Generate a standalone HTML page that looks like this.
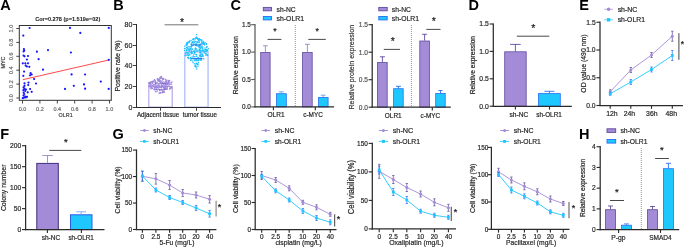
<!DOCTYPE html>
<html><head><meta charset="utf-8"><style>
html,body{margin:0;padding:0;background:#fff;}
body{width:685px;height:248px;overflow:hidden;}
svg{display:block;will-change:transform;font-family:"Liberation Sans",sans-serif;}
</style></head><body>
<svg width="685" height="248" viewBox="0 0 685 248">
<text x="0.34" y="10.20" font-size="14.50" font-weight="bold" fill="#000">A</text>
<text x="113.26" y="10.20" font-size="14.50" font-weight="bold" fill="#000">B</text>
<text x="230.52" y="10.20" font-size="14.50" font-weight="bold" fill="#000">C</text>
<text x="468.46" y="10.20" font-size="14.50" font-weight="bold" fill="#000">D</text>
<text x="579.26" y="10.20" font-size="14.50" font-weight="bold" fill="#000">E</text>
<text x="0.26" y="139.00" font-size="14.50" font-weight="bold" fill="#000">F</text>
<text x="112.62" y="139.00" font-size="14.50" font-weight="bold" fill="#000">G</text>
<text x="578.96" y="139.00" font-size="14.50" font-weight="bold" fill="#000">H</text>
<rect x="19.3" y="25.5" width="92.0" height="74.8" fill="none" stroke="#333" stroke-width="1"/>
<text x="35.13" y="21.05" font-size="6.02" font-weight="bold" fill="#1a1a1a" stroke="#1a1a1a" stroke-width="0.05" textLength="65.19" lengthAdjust="spacingAndGlyphs">Cor=0.278 (p=1.519e−02)</text>
<line x1="16.30" y1="98.00" x2="19.30" y2="98.00" stroke="#333" stroke-width="0.9" />
<text x="12.80" y="101.84" font-size="5.94" fill="#6a6a6a" stroke="#6a6a6a" stroke-width="0.2" transform="rotate(-90 12.80 101.84)" textLength="7.65" lengthAdjust="spacingAndGlyphs">0.0</text>
<line x1="16.30" y1="84.10" x2="19.30" y2="84.10" stroke="#333" stroke-width="0.9" />
<text x="12.80" y="87.89" font-size="5.94" fill="#6a6a6a" stroke="#6a6a6a" stroke-width="0.2" transform="rotate(-90 12.80 87.89)" textLength="7.65" lengthAdjust="spacingAndGlyphs">0.2</text>
<line x1="16.30" y1="70.20" x2="19.30" y2="70.20" stroke="#333" stroke-width="0.9" />
<text x="12.80" y="74.05" font-size="5.94" fill="#6a6a6a" stroke="#6a6a6a" stroke-width="0.2" transform="rotate(-90 12.80 74.05)" textLength="7.65" lengthAdjust="spacingAndGlyphs">0.4</text>
<line x1="16.30" y1="56.30" x2="19.30" y2="56.30" stroke="#333" stroke-width="0.9" />
<text x="12.80" y="60.12" font-size="5.94" fill="#6a6a6a" stroke="#6a6a6a" stroke-width="0.2" transform="rotate(-90 12.80 60.12)" textLength="7.65" lengthAdjust="spacingAndGlyphs">0.6</text>
<line x1="16.30" y1="42.40" x2="19.30" y2="42.40" stroke="#333" stroke-width="0.9" />
<text x="12.80" y="46.22" font-size="5.94" fill="#6a6a6a" stroke="#6a6a6a" stroke-width="0.2" transform="rotate(-90 12.80 46.22)" textLength="7.65" lengthAdjust="spacingAndGlyphs">0.8</text>
<line x1="16.30" y1="28.50" x2="19.30" y2="28.50" stroke="#333" stroke-width="0.9" />
<text x="12.80" y="32.43" font-size="5.94" fill="#6a6a6a" stroke="#6a6a6a" stroke-width="0.2" transform="rotate(-90 12.80 32.43)" textLength="7.65" lengthAdjust="spacingAndGlyphs">1.0</text>
<line x1="22.50" y1="100.30" x2="22.50" y2="103.50" stroke="#333" stroke-width="0.9" />
<text x="18.66" y="111.30" font-size="5.94" fill="#6a6a6a" stroke="#6a6a6a" stroke-width="0.2" textLength="7.65" lengthAdjust="spacingAndGlyphs">0.0</text>
<line x1="39.90" y1="100.30" x2="39.90" y2="103.50" stroke="#333" stroke-width="0.9" />
<text x="36.11" y="111.30" font-size="5.94" fill="#6a6a6a" stroke="#6a6a6a" stroke-width="0.2" textLength="7.65" lengthAdjust="spacingAndGlyphs">0.2</text>
<line x1="57.30" y1="100.30" x2="57.30" y2="103.50" stroke="#333" stroke-width="0.9" />
<text x="53.45" y="111.30" font-size="5.94" fill="#6a6a6a" stroke="#6a6a6a" stroke-width="0.2" textLength="7.65" lengthAdjust="spacingAndGlyphs">0.4</text>
<line x1="74.70" y1="100.30" x2="74.70" y2="103.50" stroke="#333" stroke-width="0.9" />
<text x="70.88" y="111.30" font-size="5.94" fill="#6a6a6a" stroke="#6a6a6a" stroke-width="0.2" textLength="7.65" lengthAdjust="spacingAndGlyphs">0.6</text>
<line x1="92.10" y1="100.30" x2="92.10" y2="103.50" stroke="#333" stroke-width="0.9" />
<text x="88.28" y="111.30" font-size="5.94" fill="#6a6a6a" stroke="#6a6a6a" stroke-width="0.2" textLength="7.65" lengthAdjust="spacingAndGlyphs">0.8</text>
<line x1="109.50" y1="100.30" x2="109.50" y2="103.50" stroke="#333" stroke-width="0.9" />
<text x="105.57" y="111.30" font-size="5.94" fill="#6a6a6a" stroke="#6a6a6a" stroke-width="0.2" textLength="7.65" lengthAdjust="spacingAndGlyphs">1.0</text>
<text x="58.55" y="117.20" font-size="5.83" fill="#444" stroke="#444" stroke-width="0.2" textLength="14.11" lengthAdjust="spacingAndGlyphs">OLR1</text>
<text x="4.70" y="68.52" font-size="5.83" fill="#444" stroke="#444" stroke-width="0.2" transform="rotate(-90 4.70 68.52)" textLength="12.00" lengthAdjust="spacingAndGlyphs">MYC</text>
<line x1="22.80" y1="79.70" x2="108.80" y2="60.00" stroke="#ff3535" stroke-width="0.9" />
<circle cx="29.6" cy="28" r="1.1" fill="#1515ff"/>
<circle cx="23.3" cy="35.6" r="1.1" fill="#1515ff"/>
<circle cx="23.9" cy="49" r="1.1" fill="#1515ff"/>
<circle cx="24.2" cy="50.5" r="1.1" fill="#1515ff"/>
<circle cx="23.6" cy="51.5" r="1.1" fill="#1515ff"/>
<circle cx="36.9" cy="51.7" r="1.1" fill="#1515ff"/>
<circle cx="48" cy="50.1" r="1.1" fill="#1515ff"/>
<circle cx="23.6" cy="55.5" r="1.1" fill="#1515ff"/>
<circle cx="24.5" cy="56.3" r="1.1" fill="#1515ff"/>
<circle cx="28" cy="56" r="1.1" fill="#1515ff"/>
<circle cx="26.9" cy="59.5" r="1.1" fill="#1515ff"/>
<circle cx="38.6" cy="59.2" r="1.1" fill="#1515ff"/>
<circle cx="22.8" cy="63.3" r="1.1" fill="#1515ff"/>
<circle cx="25.3" cy="63.3" r="1.1" fill="#1515ff"/>
<circle cx="28" cy="63.3" r="1.1" fill="#1515ff"/>
<circle cx="25.7" cy="65.6" r="1.1" fill="#1515ff"/>
<circle cx="26.9" cy="66.5" r="1.1" fill="#1515ff"/>
<circle cx="29.3" cy="66.8" r="1.1" fill="#1515ff"/>
<circle cx="43" cy="69.7" r="1.1" fill="#1515ff"/>
<circle cx="24.1" cy="71.6" r="1.1" fill="#1515ff"/>
<circle cx="30.6" cy="73.2" r="1.1" fill="#1515ff"/>
<circle cx="31.7" cy="74.5" r="1.1" fill="#1515ff"/>
<circle cx="30.1" cy="75.3" r="1.1" fill="#1515ff"/>
<circle cx="23.3" cy="75.8" r="1.1" fill="#1515ff"/>
<circle cx="34.1" cy="79" r="1.1" fill="#1515ff"/>
<circle cx="24.5" cy="83.4" r="1.1" fill="#1515ff"/>
<circle cx="28.5" cy="82.6" r="1.1" fill="#1515ff"/>
<circle cx="28.2" cy="85" r="1.1" fill="#1515ff"/>
<circle cx="24.5" cy="85.8" r="1.1" fill="#1515ff"/>
<circle cx="36" cy="83.5" r="1.1" fill="#1515ff"/>
<circle cx="23.6" cy="87.4" r="1.1" fill="#1515ff"/>
<circle cx="24.5" cy="88.8" r="1.1" fill="#1515ff"/>
<circle cx="23.4" cy="90.2" r="1.1" fill="#1515ff"/>
<circle cx="25.2" cy="91" r="1.1" fill="#1515ff"/>
<circle cx="23.6" cy="92.6" r="1.1" fill="#1515ff"/>
<circle cx="24.2" cy="94" r="1.1" fill="#1515ff"/>
<circle cx="23.5" cy="95.5" r="1.1" fill="#1515ff"/>
<circle cx="25.3" cy="96.5" r="1.1" fill="#1515ff"/>
<circle cx="24" cy="97.6" r="1.1" fill="#1515ff"/>
<circle cx="22.8" cy="98.2" r="1.1" fill="#1515ff"/>
<circle cx="30.1" cy="89" r="1.1" fill="#1515ff"/>
<circle cx="27.7" cy="92.3" r="1.1" fill="#1515ff"/>
<circle cx="31.7" cy="91.8" r="1.1" fill="#1515ff"/>
<circle cx="25.8" cy="97.5" r="1.1" fill="#1515ff"/>
<circle cx="27" cy="96.8" r="1.1" fill="#1515ff"/>
<circle cx="26.0" cy="89.5" r="1.1" fill="#1515ff"/>
<circle cx="70" cy="27.9" r="1.1" fill="#1515ff"/>
<circle cx="80.3" cy="32.9" r="1.1" fill="#1515ff"/>
<circle cx="108.8" cy="27.9" r="1.1" fill="#1515ff"/>
<circle cx="70.9" cy="52.5" r="1.1" fill="#1515ff"/>
<circle cx="108.8" cy="59.8" r="1.1" fill="#1515ff"/>
<circle cx="71.6" cy="74.4" r="1.1" fill="#1515ff"/>
<circle cx="85.1" cy="74.5" r="1.1" fill="#1515ff"/>
<circle cx="100.8" cy="81.6" r="1.1" fill="#1515ff"/>
<circle cx="73.8" cy="85.8" r="1.1" fill="#1515ff"/>
<circle cx="84" cy="84.4" r="1.1" fill="#1515ff"/>
<circle cx="65" cy="88.9" r="1.1" fill="#1515ff"/>
<circle cx="85.1" cy="88.7" r="1.1" fill="#1515ff"/>
<circle cx="108.7" cy="88.9" r="1.1" fill="#1515ff"/>
<text x="136.95" y="117.30" font-size="6.73" fill="#262626" stroke="#262626" stroke-width="0.2" textLength="42.29" lengthAdjust="spacingAndGlyphs">Adjacent tissue</text>
<text x="182.86" y="117.30" font-size="6.76" fill="#262626" stroke="#262626" stroke-width="0.2" textLength="34.08" lengthAdjust="spacingAndGlyphs">tumor tissue</text>
<text x="119.70" y="91.61" font-size="7.55" fill="#262626" stroke="#262626" stroke-width="0.2" transform="rotate(-90 119.70 91.61)" textLength="51.28" lengthAdjust="spacingAndGlyphs">Positive rate (%)</text>
<rect x="148.85" y="86.35" width="23.30" height="20.75" fill="none" stroke="#a18ddc" stroke-width="0.9"/>
<rect x="184.85" y="51.92" width="23.20" height="55.18" fill="none" stroke="#8ea2f5" stroke-width="0.9"/>
<rect x="166.60" y="87.05" width="1.3" height="1.3" fill="#9c85dc"/>
<rect x="159.55" y="92.29" width="1.3" height="1.3" fill="#9c85dc"/>
<rect x="159.54" y="91.92" width="1.3" height="1.3" fill="#9c85dc"/>
<rect x="161.29" y="80.47" width="1.3" height="1.3" fill="#9c85dc"/>
<rect x="165.70" y="81.04" width="1.3" height="1.3" fill="#9c85dc"/>
<rect x="162.76" y="78.37" width="1.3" height="1.3" fill="#9c85dc"/>
<rect x="168.32" y="79.82" width="1.3" height="1.3" fill="#9c85dc"/>
<rect x="163.58" y="91.42" width="1.3" height="1.3" fill="#9c85dc"/>
<rect x="152.90" y="85.59" width="1.3" height="1.3" fill="#9c85dc"/>
<rect x="152.00" y="81.38" width="1.3" height="1.3" fill="#9c85dc"/>
<rect x="157.70" y="78.70" width="1.3" height="1.3" fill="#9c85dc"/>
<rect x="163.88" y="86.70" width="1.3" height="1.3" fill="#9c85dc"/>
<rect x="167.14" y="82.06" width="1.3" height="1.3" fill="#9c85dc"/>
<rect x="159.31" y="84.56" width="1.3" height="1.3" fill="#9c85dc"/>
<rect x="168.94" y="88.48" width="1.3" height="1.3" fill="#9c85dc"/>
<rect x="162.55" y="90.94" width="1.3" height="1.3" fill="#9c85dc"/>
<rect x="148.36" y="82.56" width="1.3" height="1.3" fill="#9c85dc"/>
<rect x="166.14" y="82.36" width="1.3" height="1.3" fill="#9c85dc"/>
<rect x="156.04" y="86.84" width="1.3" height="1.3" fill="#9c85dc"/>
<rect x="152.27" y="81.62" width="1.3" height="1.3" fill="#9c85dc"/>
<rect x="160.78" y="77.52" width="1.3" height="1.3" fill="#9c85dc"/>
<rect x="153.66" y="85.49" width="1.3" height="1.3" fill="#9c85dc"/>
<rect x="158.72" y="86.54" width="1.3" height="1.3" fill="#9c85dc"/>
<rect x="169.40" y="83.53" width="1.3" height="1.3" fill="#9c85dc"/>
<rect x="162.09" y="90.82" width="1.3" height="1.3" fill="#9c85dc"/>
<rect x="158.92" y="89.94" width="1.3" height="1.3" fill="#9c85dc"/>
<rect x="171.28" y="81.31" width="1.3" height="1.3" fill="#9c85dc"/>
<rect x="165.07" y="84.09" width="1.3" height="1.3" fill="#9c85dc"/>
<rect x="157.52" y="84.53" width="1.3" height="1.3" fill="#9c85dc"/>
<rect x="164.84" y="78.71" width="1.3" height="1.3" fill="#9c85dc"/>
<rect x="150.22" y="84.89" width="1.3" height="1.3" fill="#9c85dc"/>
<rect x="167.85" y="80.92" width="1.3" height="1.3" fill="#9c85dc"/>
<rect x="166.13" y="82.47" width="1.3" height="1.3" fill="#9c85dc"/>
<rect x="164.98" y="88.31" width="1.3" height="1.3" fill="#9c85dc"/>
<rect x="154.67" y="82.51" width="1.3" height="1.3" fill="#9c85dc"/>
<rect x="164.18" y="84.65" width="1.3" height="1.3" fill="#9c85dc"/>
<rect x="163.20" y="81.29" width="1.3" height="1.3" fill="#9c85dc"/>
<rect x="160.84" y="86.31" width="1.3" height="1.3" fill="#9c85dc"/>
<rect x="158.97" y="80.54" width="1.3" height="1.3" fill="#9c85dc"/>
<rect x="161.51" y="90.11" width="1.3" height="1.3" fill="#9c85dc"/>
<rect x="168.33" y="82.28" width="1.3" height="1.3" fill="#9c85dc"/>
<rect x="167.56" y="85.41" width="1.3" height="1.3" fill="#9c85dc"/>
<rect x="164.45" y="88.25" width="1.3" height="1.3" fill="#9c85dc"/>
<rect x="157.91" y="86.31" width="1.3" height="1.3" fill="#9c85dc"/>
<rect x="162.93" y="87.07" width="1.3" height="1.3" fill="#9c85dc"/>
<rect x="153.61" y="88.76" width="1.3" height="1.3" fill="#9c85dc"/>
<rect x="153.23" y="83.87" width="1.3" height="1.3" fill="#9c85dc"/>
<rect x="150.19" y="88.15" width="1.3" height="1.3" fill="#9c85dc"/>
<rect x="149.41" y="84.40" width="1.3" height="1.3" fill="#9c85dc"/>
<rect x="156.91" y="78.49" width="1.3" height="1.3" fill="#9c85dc"/>
<rect x="159.20" y="79.53" width="1.3" height="1.3" fill="#9c85dc"/>
<rect x="161.84" y="82.81" width="1.3" height="1.3" fill="#9c85dc"/>
<rect x="151.15" y="81.02" width="1.3" height="1.3" fill="#9c85dc"/>
<rect x="154.90" y="90.70" width="1.3" height="1.3" fill="#9c85dc"/>
<rect x="160.80" y="86.89" width="1.3" height="1.3" fill="#9c85dc"/>
<rect x="170.38" y="82.09" width="1.3" height="1.3" fill="#9c85dc"/>
<rect x="163.23" y="90.47" width="1.3" height="1.3" fill="#9c85dc"/>
<rect x="151.45" y="87.39" width="1.3" height="1.3" fill="#9c85dc"/>
<rect x="170.36" y="86.58" width="1.3" height="1.3" fill="#9c85dc"/>
<rect x="148.17" y="82.29" width="1.3" height="1.3" fill="#9c85dc"/>
<rect x="162.75" y="86.92" width="1.3" height="1.3" fill="#9c85dc"/>
<rect x="154.91" y="83.70" width="1.3" height="1.3" fill="#9c85dc"/>
<rect x="170.91" y="86.58" width="1.3" height="1.3" fill="#9c85dc"/>
<rect x="155.55" y="84.84" width="1.3" height="1.3" fill="#9c85dc"/>
<rect x="151.17" y="81.16" width="1.3" height="1.3" fill="#9c85dc"/>
<rect x="154.95" y="87.03" width="1.3" height="1.3" fill="#9c85dc"/>
<rect x="165.98" y="80.94" width="1.3" height="1.3" fill="#9c85dc"/>
<rect x="152.57" y="80.45" width="1.3" height="1.3" fill="#9c85dc"/>
<rect x="163.11" y="86.79" width="1.3" height="1.3" fill="#9c85dc"/>
<rect x="150.89" y="86.72" width="1.3" height="1.3" fill="#9c85dc"/>
<rect x="160.25" y="89.46" width="1.3" height="1.3" fill="#9c85dc"/>
<rect x="160.44" y="82.03" width="1.3" height="1.3" fill="#9c85dc"/>
<rect x="165.43" y="84.28" width="1.3" height="1.3" fill="#9c85dc"/>
<rect x="154.01" y="86.49" width="1.3" height="1.3" fill="#9c85dc"/>
<rect x="168.75" y="84.12" width="1.3" height="1.3" fill="#9c85dc"/>
<rect x="166.21" y="85.70" width="1.3" height="1.3" fill="#9c85dc"/>
<rect x="164.58" y="83.64" width="1.3" height="1.3" fill="#9c85dc"/>
<rect x="169.30" y="87.21" width="1.3" height="1.3" fill="#9c85dc"/>
<rect x="167.91" y="82.90" width="1.3" height="1.3" fill="#9c85dc"/>
<rect x="165.11" y="79.59" width="1.3" height="1.3" fill="#9c85dc"/>
<rect x="155.44" y="88.31" width="1.3" height="1.3" fill="#9c85dc"/>
<rect x="155.82" y="85.76" width="1.3" height="1.3" fill="#9c85dc"/>
<rect x="156.65" y="90.36" width="1.3" height="1.3" fill="#9c85dc"/>
<rect x="164.80" y="87.76" width="1.3" height="1.3" fill="#9c85dc"/>
<rect x="166.46" y="88.42" width="1.3" height="1.3" fill="#9c85dc"/>
<rect x="168.30" y="79.99" width="1.3" height="1.3" fill="#9c85dc"/>
<rect x="155.87" y="88.62" width="1.3" height="1.3" fill="#9c85dc"/>
<rect x="160.41" y="92.21" width="1.3" height="1.3" fill="#9c85dc"/>
<rect x="162.59" y="83.39" width="1.3" height="1.3" fill="#9c85dc"/>
<rect x="159.32" y="76.91" width="1.3" height="1.3" fill="#9c85dc"/>
<rect x="160.13" y="77.41" width="1.3" height="1.3" fill="#9c85dc"/>
<rect x="159.51" y="81.65" width="1.3" height="1.3" fill="#9c85dc"/>
<rect x="161.02" y="85.00" width="1.3" height="1.3" fill="#9c85dc"/>
<rect x="160.95" y="87.02" width="1.3" height="1.3" fill="#9c85dc"/>
<rect x="160.11" y="80.60" width="1.3" height="1.3" fill="#9c85dc"/>
<rect x="158.60" y="78.49" width="1.3" height="1.3" fill="#9c85dc"/>
<rect x="163.32" y="89.04" width="1.3" height="1.3" fill="#9c85dc"/>
<rect x="163.65" y="87.61" width="1.3" height="1.3" fill="#9c85dc"/>
<rect x="160.33" y="77.75" width="1.3" height="1.3" fill="#9c85dc"/>
<rect x="159.35" y="80.33" width="1.3" height="1.3" fill="#9c85dc"/>
<rect x="148.83" y="81.81" width="1.3" height="1.3" fill="#9c85dc"/>
<rect x="153.57" y="88.84" width="1.3" height="1.3" fill="#9c85dc"/>
<rect x="168.90" y="80.05" width="1.3" height="1.3" fill="#9c85dc"/>
<rect x="151.62" y="87.79" width="1.3" height="1.3" fill="#9c85dc"/>
<rect x="153.60" y="87.08" width="1.3" height="1.3" fill="#9c85dc"/>
<rect x="156.24" y="81.98" width="1.3" height="1.3" fill="#9c85dc"/>
<rect x="167.43" y="82.90" width="1.3" height="1.3" fill="#9c85dc"/>
<rect x="158.20" y="87.49" width="1.3" height="1.3" fill="#9c85dc"/>
<rect x="165.32" y="86.52" width="1.3" height="1.3" fill="#9c85dc"/>
<rect x="148.92" y="83.07" width="1.3" height="1.3" fill="#9c85dc"/>
<rect x="166.35" y="79.69" width="1.3" height="1.3" fill="#9c85dc"/>
<rect x="148.16" y="84.57" width="1.3" height="1.3" fill="#9c85dc"/>
<rect x="162.52" y="84.38" width="1.3" height="1.3" fill="#9c85dc"/>
<rect x="150.46" y="83.65" width="1.3" height="1.3" fill="#9c85dc"/>
<rect x="158.32" y="78.86" width="1.3" height="1.3" fill="#9c85dc"/>
<rect x="151.68" y="82.90" width="1.3" height="1.3" fill="#9c85dc"/>
<rect x="152.58" y="80.60" width="1.3" height="1.3" fill="#9c85dc"/>
<rect x="159.34" y="81.17" width="1.3" height="1.3" fill="#9c85dc"/>
<rect x="164.10" y="82.61" width="1.3" height="1.3" fill="#9c85dc"/>
<rect x="169.48" y="87.94" width="1.3" height="1.3" fill="#9c85dc"/>
<rect x="165.01" y="81.24" width="1.3" height="1.3" fill="#9c85dc"/>
<rect x="153.87" y="79.01" width="1.3" height="1.3" fill="#9c85dc"/>
<rect x="157.76" y="80.18" width="1.3" height="1.3" fill="#9c85dc"/>
<rect x="154.72" y="81.61" width="1.3" height="1.3" fill="#9c85dc"/>
<rect x="153.99" y="88.97" width="1.3" height="1.3" fill="#9c85dc"/>
<rect x="168.81" y="80.36" width="1.3" height="1.3" fill="#9c85dc"/>
<rect x="170.78" y="87.45" width="1.3" height="1.3" fill="#9c85dc"/>
<rect x="160.18" y="76.26" width="1.3" height="1.3" fill="#9c85dc"/>
<rect x="160.87" y="83.33" width="1.3" height="1.3" fill="#9c85dc"/>
<rect x="149.80" y="82.28" width="1.3" height="1.3" fill="#9c85dc"/>
<rect x="158.44" y="92.53" width="1.3" height="1.3" fill="#9c85dc"/>
<rect x="149.34" y="83.28" width="1.3" height="1.3" fill="#9c85dc"/>
<rect x="158.36" y="79.29" width="1.3" height="1.3" fill="#9c85dc"/>
<rect x="155.43" y="85.45" width="1.3" height="1.3" fill="#9c85dc"/>
<rect x="155.35" y="91.14" width="1.3" height="1.3" fill="#9c85dc"/>
<rect x="161.41" y="85.59" width="1.3" height="1.3" fill="#9c85dc"/>
<rect x="164.98" y="82.74" width="1.3" height="1.3" fill="#9c85dc"/>
<rect x="153.35" y="84.01" width="1.3" height="1.3" fill="#9c85dc"/>
<rect x="156.67" y="78.17" width="1.3" height="1.3" fill="#9c85dc"/>
<rect x="150.05" y="81.63" width="1.3" height="1.3" fill="#9c85dc"/>
<rect x="158.27" y="80.43" width="1.3" height="1.3" fill="#9c85dc"/>
<rect x="149.58" y="86.25" width="1.3" height="1.3" fill="#9c85dc"/>
<rect x="153.84" y="88.41" width="1.3" height="1.3" fill="#9c85dc"/>
<rect x="150.64" y="81.16" width="1.3" height="1.3" fill="#9c85dc"/>
<rect x="165.60" y="83.51" width="1.3" height="1.3" fill="#9c85dc"/>
<rect x="163.33" y="85.88" width="1.3" height="1.3" fill="#9c85dc"/>
<rect x="158.89" y="89.45" width="1.3" height="1.3" fill="#9c85dc"/>
<rect x="165.88" y="88.42" width="1.3" height="1.3" fill="#9c85dc"/>
<rect x="149.68" y="82.84" width="1.3" height="1.3" fill="#9c85dc"/>
<rect x="162.05" y="79.11" width="1.3" height="1.3" fill="#9c85dc"/>
<rect x="165.73" y="81.15" width="1.3" height="1.3" fill="#9c85dc"/>
<rect x="149.32" y="85.90" width="1.3" height="1.3" fill="#9c85dc"/>
<rect x="162.81" y="78.43" width="1.3" height="1.3" fill="#9c85dc"/>
<rect x="156.98" y="80.19" width="1.3" height="1.3" fill="#9c85dc"/>
<rect x="161.71" y="81.93" width="1.3" height="1.3" fill="#9c85dc"/>
<rect x="166.59" y="83.96" width="1.3" height="1.3" fill="#9c85dc"/>
<rect x="162.90" y="78.22" width="1.3" height="1.3" fill="#9c85dc"/>
<rect x="158.39" y="84.22" width="1.3" height="1.3" fill="#9c85dc"/>
<rect x="161.98" y="85.47" width="1.3" height="1.3" fill="#9c85dc"/>
<rect x="170.84" y="83.49" width="1.3" height="1.3" fill="#9c85dc"/>
<rect x="157.26" y="84.58" width="1.3" height="1.3" fill="#9c85dc"/>
<rect x="154.22" y="79.92" width="1.3" height="1.3" fill="#9c85dc"/>
<rect x="165.58" y="85.99" width="1.3" height="1.3" fill="#9c85dc"/>
<rect x="154.56" y="80.38" width="1.3" height="1.3" fill="#9c85dc"/>
<rect x="167.44" y="83.17" width="1.3" height="1.3" fill="#9c85dc"/>
<rect x="152.08" y="84.73" width="1.3" height="1.3" fill="#9c85dc"/>
<rect x="161.79" y="91.90" width="1.3" height="1.3" fill="#9c85dc"/>
<rect x="168.17" y="81.82" width="1.3" height="1.3" fill="#9c85dc"/>
<rect x="156.88" y="87.05" width="1.3" height="1.3" fill="#9c85dc"/>
<rect x="157.18" y="86.42" width="1.3" height="1.3" fill="#9c85dc"/>
<rect x="155.39" y="81.70" width="1.3" height="1.3" fill="#9c85dc"/>
<rect x="164.47" y="82.85" width="1.3" height="1.3" fill="#9c85dc"/>
<rect x="167.07" y="83.13" width="1.3" height="1.3" fill="#9c85dc"/>
<rect x="166.36" y="87.88" width="1.3" height="1.3" fill="#9c85dc"/>
<rect x="163.91" y="82.50" width="1.3" height="1.3" fill="#9c85dc"/>
<rect x="149.95" y="85.29" width="1.3" height="1.3" fill="#9c85dc"/>
<rect x="164.73" y="86.31" width="1.3" height="1.3" fill="#9c85dc"/>
<rect x="154.52" y="81.52" width="1.3" height="1.3" fill="#9c85dc"/>
<rect x="164.42" y="88.68" width="1.3" height="1.3" fill="#9c85dc"/>
<rect x="160.14" y="86.84" width="1.3" height="1.3" fill="#9c85dc"/>
<rect x="163.10" y="91.83" width="1.3" height="1.3" fill="#9c85dc"/>
<rect x="148.22" y="85.67" width="1.3" height="1.3" fill="#9c85dc"/>
<rect x="163.30" y="82.98" width="1.3" height="1.3" fill="#9c85dc"/>
<rect x="150.68" y="86.89" width="1.3" height="1.3" fill="#9c85dc"/>
<rect x="164.19" y="88.20" width="1.3" height="1.3" fill="#9c85dc"/>
<rect x="188.95" y="46.19" width="1.3" height="1.3" fill="#1fc0ff"/>
<rect x="198.59" y="43.88" width="1.3" height="1.3" fill="#1fc0ff"/>
<rect x="196.56" y="63.88" width="1.3" height="1.3" fill="#1fc0ff"/>
<rect x="190.58" y="59.46" width="1.3" height="1.3" fill="#1fc0ff"/>
<rect x="204.94" y="52.68" width="1.3" height="1.3" fill="#1fc0ff"/>
<rect x="194.76" y="58.16" width="1.3" height="1.3" fill="#1fc0ff"/>
<rect x="191.11" y="51.42" width="1.3" height="1.3" fill="#1fc0ff"/>
<rect x="205.78" y="43.04" width="1.3" height="1.3" fill="#1fc0ff"/>
<rect x="190.44" y="39.88" width="1.3" height="1.3" fill="#1fc0ff"/>
<rect x="188.26" y="52.57" width="1.3" height="1.3" fill="#1fc0ff"/>
<rect x="197.94" y="39.98" width="1.3" height="1.3" fill="#1fc0ff"/>
<rect x="187.56" y="56.88" width="1.3" height="1.3" fill="#1fc0ff"/>
<rect x="206.82" y="49.93" width="1.3" height="1.3" fill="#1fc0ff"/>
<rect x="199.16" y="44.31" width="1.3" height="1.3" fill="#1fc0ff"/>
<rect x="188.49" y="49.66" width="1.3" height="1.3" fill="#1fc0ff"/>
<rect x="192.60" y="38.84" width="1.3" height="1.3" fill="#1fc0ff"/>
<rect x="202.04" y="54.36" width="1.3" height="1.3" fill="#1fc0ff"/>
<rect x="186.33" y="54.68" width="1.3" height="1.3" fill="#1fc0ff"/>
<rect x="195.18" y="37.03" width="1.3" height="1.3" fill="#1fc0ff"/>
<rect x="200.18" y="46.21" width="1.3" height="1.3" fill="#1fc0ff"/>
<rect x="194.55" y="58.66" width="1.3" height="1.3" fill="#1fc0ff"/>
<rect x="186.67" y="51.92" width="1.3" height="1.3" fill="#1fc0ff"/>
<rect x="200.26" y="53.73" width="1.3" height="1.3" fill="#1fc0ff"/>
<rect x="206.53" y="50.30" width="1.3" height="1.3" fill="#1fc0ff"/>
<rect x="189.95" y="57.93" width="1.3" height="1.3" fill="#1fc0ff"/>
<rect x="201.55" y="49.74" width="1.3" height="1.3" fill="#1fc0ff"/>
<rect x="200.18" y="43.37" width="1.3" height="1.3" fill="#1fc0ff"/>
<rect x="203.56" y="43.55" width="1.3" height="1.3" fill="#1fc0ff"/>
<rect x="193.95" y="51.10" width="1.3" height="1.3" fill="#1fc0ff"/>
<rect x="188.18" y="41.59" width="1.3" height="1.3" fill="#1fc0ff"/>
<rect x="195.39" y="42.71" width="1.3" height="1.3" fill="#1fc0ff"/>
<rect x="186.05" y="46.61" width="1.3" height="1.3" fill="#1fc0ff"/>
<rect x="184.08" y="45.58" width="1.3" height="1.3" fill="#1fc0ff"/>
<rect x="190.00" y="59.44" width="1.3" height="1.3" fill="#1fc0ff"/>
<rect x="193.63" y="42.03" width="1.3" height="1.3" fill="#1fc0ff"/>
<rect x="189.10" y="51.02" width="1.3" height="1.3" fill="#1fc0ff"/>
<rect x="190.55" y="49.50" width="1.3" height="1.3" fill="#1fc0ff"/>
<rect x="193.28" y="50.71" width="1.3" height="1.3" fill="#1fc0ff"/>
<rect x="196.91" y="59.86" width="1.3" height="1.3" fill="#1fc0ff"/>
<rect x="184.42" y="55.04" width="1.3" height="1.3" fill="#1fc0ff"/>
<rect x="200.30" y="59.56" width="1.3" height="1.3" fill="#1fc0ff"/>
<rect x="202.00" y="46.34" width="1.3" height="1.3" fill="#1fc0ff"/>
<rect x="197.41" y="63.69" width="1.3" height="1.3" fill="#1fc0ff"/>
<rect x="207.71" y="47.82" width="1.3" height="1.3" fill="#1fc0ff"/>
<rect x="192.11" y="40.87" width="1.3" height="1.3" fill="#1fc0ff"/>
<rect x="199.85" y="49.43" width="1.3" height="1.3" fill="#1fc0ff"/>
<rect x="195.68" y="37.72" width="1.3" height="1.3" fill="#1fc0ff"/>
<rect x="200.70" y="40.19" width="1.3" height="1.3" fill="#1fc0ff"/>
<rect x="198.43" y="38.16" width="1.3" height="1.3" fill="#1fc0ff"/>
<rect x="194.63" y="65.24" width="1.3" height="1.3" fill="#1fc0ff"/>
<rect x="201.94" y="48.05" width="1.3" height="1.3" fill="#1fc0ff"/>
<rect x="187.50" y="46.16" width="1.3" height="1.3" fill="#1fc0ff"/>
<rect x="200.70" y="51.07" width="1.3" height="1.3" fill="#1fc0ff"/>
<rect x="192.70" y="55.30" width="1.3" height="1.3" fill="#1fc0ff"/>
<rect x="207.03" y="49.70" width="1.3" height="1.3" fill="#1fc0ff"/>
<rect x="191.53" y="41.69" width="1.3" height="1.3" fill="#1fc0ff"/>
<rect x="187.06" y="51.98" width="1.3" height="1.3" fill="#1fc0ff"/>
<rect x="184.05" y="49.81" width="1.3" height="1.3" fill="#1fc0ff"/>
<rect x="195.90" y="59.61" width="1.3" height="1.3" fill="#1fc0ff"/>
<rect x="185.20" y="54.19" width="1.3" height="1.3" fill="#1fc0ff"/>
<rect x="193.10" y="50.47" width="1.3" height="1.3" fill="#1fc0ff"/>
<rect x="191.10" y="45.24" width="1.3" height="1.3" fill="#1fc0ff"/>
<rect x="206.05" y="48.76" width="1.3" height="1.3" fill="#1fc0ff"/>
<rect x="200.97" y="46.07" width="1.3" height="1.3" fill="#1fc0ff"/>
<rect x="194.31" y="58.43" width="1.3" height="1.3" fill="#1fc0ff"/>
<rect x="187.16" y="52.20" width="1.3" height="1.3" fill="#1fc0ff"/>
<rect x="197.41" y="45.41" width="1.3" height="1.3" fill="#1fc0ff"/>
<rect x="188.97" y="40.56" width="1.3" height="1.3" fill="#1fc0ff"/>
<rect x="201.51" y="42.45" width="1.3" height="1.3" fill="#1fc0ff"/>
<rect x="200.31" y="58.60" width="1.3" height="1.3" fill="#1fc0ff"/>
<rect x="198.94" y="54.70" width="1.3" height="1.3" fill="#1fc0ff"/>
<rect x="202.85" y="41.86" width="1.3" height="1.3" fill="#1fc0ff"/>
<rect x="188.10" y="48.38" width="1.3" height="1.3" fill="#1fc0ff"/>
<rect x="197.36" y="38.19" width="1.3" height="1.3" fill="#1fc0ff"/>
<rect x="184.89" y="52.52" width="1.3" height="1.3" fill="#1fc0ff"/>
<rect x="196.41" y="63.00" width="1.3" height="1.3" fill="#1fc0ff"/>
<rect x="189.17" y="54.21" width="1.3" height="1.3" fill="#1fc0ff"/>
<rect x="194.34" y="65.63" width="1.3" height="1.3" fill="#1fc0ff"/>
<rect x="187.36" y="56.67" width="1.3" height="1.3" fill="#1fc0ff"/>
<rect x="205.26" y="49.11" width="1.3" height="1.3" fill="#1fc0ff"/>
<rect x="198.06" y="57.92" width="1.3" height="1.3" fill="#1fc0ff"/>
<rect x="197.76" y="62.06" width="1.3" height="1.3" fill="#1fc0ff"/>
<rect x="186.09" y="42.29" width="1.3" height="1.3" fill="#1fc0ff"/>
<rect x="200.90" y="59.18" width="1.3" height="1.3" fill="#1fc0ff"/>
<rect x="189.04" y="49.28" width="1.3" height="1.3" fill="#1fc0ff"/>
<rect x="193.57" y="40.49" width="1.3" height="1.3" fill="#1fc0ff"/>
<rect x="188.05" y="54.56" width="1.3" height="1.3" fill="#1fc0ff"/>
<rect x="197.26" y="56.78" width="1.3" height="1.3" fill="#1fc0ff"/>
<rect x="194.73" y="64.38" width="1.3" height="1.3" fill="#1fc0ff"/>
<rect x="205.45" y="50.24" width="1.3" height="1.3" fill="#1fc0ff"/>
<rect x="193.92" y="52.32" width="1.3" height="1.3" fill="#1fc0ff"/>
<rect x="190.53" y="43.47" width="1.3" height="1.3" fill="#1fc0ff"/>
<rect x="190.24" y="45.64" width="1.3" height="1.3" fill="#1fc0ff"/>
<rect x="206.80" y="54.82" width="1.3" height="1.3" fill="#1fc0ff"/>
<rect x="198.92" y="44.92" width="1.3" height="1.3" fill="#1fc0ff"/>
<rect x="201.23" y="46.53" width="1.3" height="1.3" fill="#1fc0ff"/>
<rect x="192.48" y="42.36" width="1.3" height="1.3" fill="#1fc0ff"/>
<rect x="196.33" y="36.79" width="1.3" height="1.3" fill="#1fc0ff"/>
<rect x="185.36" y="47.43" width="1.3" height="1.3" fill="#1fc0ff"/>
<rect x="205.74" y="43.74" width="1.3" height="1.3" fill="#1fc0ff"/>
<rect x="193.84" y="50.67" width="1.3" height="1.3" fill="#1fc0ff"/>
<rect x="196.96" y="41.20" width="1.3" height="1.3" fill="#1fc0ff"/>
<rect x="196.10" y="43.35" width="1.3" height="1.3" fill="#1fc0ff"/>
<rect x="202.30" y="49.30" width="1.3" height="1.3" fill="#1fc0ff"/>
<rect x="190.38" y="51.89" width="1.3" height="1.3" fill="#1fc0ff"/>
<rect x="194.12" y="52.17" width="1.3" height="1.3" fill="#1fc0ff"/>
<rect x="202.44" y="40.62" width="1.3" height="1.3" fill="#1fc0ff"/>
<rect x="205.90" y="46.45" width="1.3" height="1.3" fill="#1fc0ff"/>
<rect x="196.52" y="44.56" width="1.3" height="1.3" fill="#1fc0ff"/>
<rect x="198.77" y="38.26" width="1.3" height="1.3" fill="#1fc0ff"/>
<rect x="205.87" y="49.30" width="1.3" height="1.3" fill="#1fc0ff"/>
<rect x="190.67" y="52.95" width="1.3" height="1.3" fill="#1fc0ff"/>
<rect x="195.46" y="58.70" width="1.3" height="1.3" fill="#1fc0ff"/>
<rect x="196.98" y="38.09" width="1.3" height="1.3" fill="#1fc0ff"/>
<rect x="203.08" y="58.19" width="1.3" height="1.3" fill="#1fc0ff"/>
<rect x="193.52" y="38.06" width="1.3" height="1.3" fill="#1fc0ff"/>
<rect x="204.43" y="48.64" width="1.3" height="1.3" fill="#1fc0ff"/>
<rect x="187.32" y="42.06" width="1.3" height="1.3" fill="#1fc0ff"/>
<rect x="199.94" y="57.91" width="1.3" height="1.3" fill="#1fc0ff"/>
<rect x="199.08" y="44.92" width="1.3" height="1.3" fill="#1fc0ff"/>
<rect x="205.92" y="50.07" width="1.3" height="1.3" fill="#1fc0ff"/>
<rect x="203.91" y="43.08" width="1.3" height="1.3" fill="#1fc0ff"/>
<rect x="186.93" y="47.57" width="1.3" height="1.3" fill="#1fc0ff"/>
<rect x="201.07" y="55.69" width="1.3" height="1.3" fill="#1fc0ff"/>
<rect x="199.50" y="44.11" width="1.3" height="1.3" fill="#1fc0ff"/>
<rect x="200.07" y="47.77" width="1.3" height="1.3" fill="#1fc0ff"/>
<rect x="195.97" y="45.04" width="1.3" height="1.3" fill="#1fc0ff"/>
<rect x="200.73" y="57.60" width="1.3" height="1.3" fill="#1fc0ff"/>
<rect x="188.71" y="49.73" width="1.3" height="1.3" fill="#1fc0ff"/>
<rect x="199.23" y="55.55" width="1.3" height="1.3" fill="#1fc0ff"/>
<rect x="187.38" y="41.29" width="1.3" height="1.3" fill="#1fc0ff"/>
<rect x="201.37" y="55.74" width="1.3" height="1.3" fill="#1fc0ff"/>
<rect x="191.20" y="50.58" width="1.3" height="1.3" fill="#1fc0ff"/>
<rect x="197.20" y="58.40" width="1.3" height="1.3" fill="#1fc0ff"/>
<rect x="198.19" y="59.16" width="1.3" height="1.3" fill="#1fc0ff"/>
<rect x="192.45" y="61.96" width="1.3" height="1.3" fill="#1fc0ff"/>
<rect x="195.29" y="48.37" width="1.3" height="1.3" fill="#1fc0ff"/>
<rect x="202.94" y="51.19" width="1.3" height="1.3" fill="#1fc0ff"/>
<rect x="205.08" y="54.42" width="1.3" height="1.3" fill="#1fc0ff"/>
<rect x="193.37" y="43.69" width="1.3" height="1.3" fill="#1fc0ff"/>
<rect x="195.05" y="40.89" width="1.3" height="1.3" fill="#1fc0ff"/>
<rect x="194.79" y="47.36" width="1.3" height="1.3" fill="#1fc0ff"/>
<rect x="199.65" y="47.61" width="1.3" height="1.3" fill="#1fc0ff"/>
<rect x="191.71" y="48.54" width="1.3" height="1.3" fill="#1fc0ff"/>
<rect x="200.95" y="42.01" width="1.3" height="1.3" fill="#1fc0ff"/>
<rect x="200.76" y="40.04" width="1.3" height="1.3" fill="#1fc0ff"/>
<rect x="198.38" y="45.91" width="1.3" height="1.3" fill="#1fc0ff"/>
<rect x="190.77" y="45.80" width="1.3" height="1.3" fill="#1fc0ff"/>
<rect x="183.99" y="47.93" width="1.3" height="1.3" fill="#1fc0ff"/>
<rect x="203.87" y="52.14" width="1.3" height="1.3" fill="#1fc0ff"/>
<rect x="186.19" y="44.57" width="1.3" height="1.3" fill="#1fc0ff"/>
<rect x="192.16" y="38.63" width="1.3" height="1.3" fill="#1fc0ff"/>
<rect x="195.31" y="53.89" width="1.3" height="1.3" fill="#1fc0ff"/>
<rect x="194.09" y="51.70" width="1.3" height="1.3" fill="#1fc0ff"/>
<rect x="189.36" y="48.43" width="1.3" height="1.3" fill="#1fc0ff"/>
<rect x="186.36" y="43.51" width="1.3" height="1.3" fill="#1fc0ff"/>
<rect x="199.81" y="51.70" width="1.3" height="1.3" fill="#1fc0ff"/>
<rect x="201.38" y="53.64" width="1.3" height="1.3" fill="#1fc0ff"/>
<rect x="204.41" y="47.32" width="1.3" height="1.3" fill="#1fc0ff"/>
<rect x="197.86" y="59.87" width="1.3" height="1.3" fill="#1fc0ff"/>
<rect x="187.48" y="49.42" width="1.3" height="1.3" fill="#1fc0ff"/>
<rect x="186.80" y="42.95" width="1.3" height="1.3" fill="#1fc0ff"/>
<rect x="191.51" y="56.34" width="1.3" height="1.3" fill="#1fc0ff"/>
<rect x="195.28" y="65.49" width="1.3" height="1.3" fill="#1fc0ff"/>
<rect x="204.54" y="49.15" width="1.3" height="1.3" fill="#1fc0ff"/>
<rect x="194.76" y="44.64" width="1.3" height="1.3" fill="#1fc0ff"/>
<rect x="194.14" y="63.01" width="1.3" height="1.3" fill="#1fc0ff"/>
<rect x="202.83" y="43.20" width="1.3" height="1.3" fill="#1fc0ff"/>
<rect x="196.01" y="50.53" width="1.3" height="1.3" fill="#1fc0ff"/>
<rect x="198.61" y="48.81" width="1.3" height="1.3" fill="#1fc0ff"/>
<rect x="187.01" y="47.26" width="1.3" height="1.3" fill="#1fc0ff"/>
<rect x="191.19" y="48.39" width="1.3" height="1.3" fill="#1fc0ff"/>
<rect x="198.02" y="45.89" width="1.3" height="1.3" fill="#1fc0ff"/>
<rect x="198.72" y="39.48" width="1.3" height="1.3" fill="#1fc0ff"/>
<rect x="199.61" y="54.73" width="1.3" height="1.3" fill="#1fc0ff"/>
<rect x="197.81" y="39.01" width="1.3" height="1.3" fill="#1fc0ff"/>
<rect x="204.05" y="50.79" width="1.3" height="1.3" fill="#1fc0ff"/>
<rect x="188.11" y="54.49" width="1.3" height="1.3" fill="#1fc0ff"/>
<rect x="198.85" y="49.59" width="1.3" height="1.3" fill="#1fc0ff"/>
<rect x="206.48" y="46.07" width="1.3" height="1.3" fill="#1fc0ff"/>
<rect x="192.58" y="58.13" width="1.3" height="1.3" fill="#1fc0ff"/>
<rect x="201.02" y="39.41" width="1.3" height="1.3" fill="#1fc0ff"/>
<rect x="198.72" y="47.14" width="1.3" height="1.3" fill="#1fc0ff"/>
<rect x="194.76" y="48.33" width="1.3" height="1.3" fill="#1fc0ff"/>
<rect x="202.77" y="43.23" width="1.3" height="1.3" fill="#1fc0ff"/>
<rect x="195.84" y="55.82" width="1.3" height="1.3" fill="#1fc0ff"/>
<rect x="205.47" y="53.19" width="1.3" height="1.3" fill="#1fc0ff"/>
<rect x="194.02" y="59.87" width="1.3" height="1.3" fill="#1fc0ff"/>
<rect x="206.27" y="54.23" width="1.3" height="1.3" fill="#1fc0ff"/>
<rect x="186.44" y="42.79" width="1.3" height="1.3" fill="#1fc0ff"/>
<rect x="195.38" y="60.19" width="1.3" height="1.3" fill="#1fc0ff"/>
<rect x="186.03" y="44.09" width="1.3" height="1.3" fill="#1fc0ff"/>
<rect x="191.41" y="42.17" width="1.3" height="1.3" fill="#1fc0ff"/>
<rect x="188.23" y="57.88" width="1.3" height="1.3" fill="#1fc0ff"/>
<rect x="203.71" y="43.85" width="1.3" height="1.3" fill="#1fc0ff"/>
<rect x="190.63" y="46.51" width="1.3" height="1.3" fill="#1fc0ff"/>
<rect x="185.78" y="49.02" width="1.3" height="1.3" fill="#1fc0ff"/>
<rect x="204.40" y="41.91" width="1.3" height="1.3" fill="#1fc0ff"/>
<rect x="201.72" y="50.01" width="1.3" height="1.3" fill="#1fc0ff"/>
<rect x="193.27" y="53.57" width="1.3" height="1.3" fill="#1fc0ff"/>
<rect x="203.92" y="44.27" width="1.3" height="1.3" fill="#1fc0ff"/>
<rect x="192.12" y="60.27" width="1.3" height="1.3" fill="#1fc0ff"/>
<rect x="192.44" y="41.26" width="1.3" height="1.3" fill="#1fc0ff"/>
<rect x="198.69" y="41.27" width="1.3" height="1.3" fill="#1fc0ff"/>
<rect x="201.38" y="53.30" width="1.3" height="1.3" fill="#1fc0ff"/>
<rect x="198.95" y="50.02" width="1.3" height="1.3" fill="#1fc0ff"/>
<rect x="189.95" y="56.90" width="1.3" height="1.3" fill="#1fc0ff"/>
<rect x="186.13" y="49.29" width="1.3" height="1.3" fill="#1fc0ff"/>
<rect x="195.51" y="58.62" width="1.3" height="1.3" fill="#1fc0ff"/>
<rect x="191.10" y="51.19" width="1.3" height="1.3" fill="#1fc0ff"/>
<rect x="199.58" y="52.47" width="1.3" height="1.3" fill="#1fc0ff"/>
<rect x="195.18" y="44.10" width="1.3" height="1.3" fill="#1fc0ff"/>
<rect x="187.06" y="53.86" width="1.3" height="1.3" fill="#1fc0ff"/>
<rect x="188.52" y="48.63" width="1.3" height="1.3" fill="#1fc0ff"/>
<rect x="190.76" y="43.51" width="1.3" height="1.3" fill="#1fc0ff"/>
<rect x="199.98" y="39.01" width="1.3" height="1.3" fill="#1fc0ff"/>
<rect x="187.05" y="57.04" width="1.3" height="1.3" fill="#1fc0ff"/>
<rect x="202.67" y="41.28" width="1.3" height="1.3" fill="#1fc0ff"/>
<rect x="195.37" y="48.49" width="1.3" height="1.3" fill="#1fc0ff"/>
<rect x="199.86" y="49.95" width="1.3" height="1.3" fill="#1fc0ff"/>
<rect x="196.43" y="57.92" width="1.3" height="1.3" fill="#1fc0ff"/>
<rect x="195.97" y="54.26" width="1.3" height="1.3" fill="#1fc0ff"/>
<rect x="199.91" y="55.93" width="1.3" height="1.3" fill="#1fc0ff"/>
<rect x="198.59" y="45.98" width="1.3" height="1.3" fill="#1fc0ff"/>
<rect x="197.83" y="57.35" width="1.3" height="1.3" fill="#1fc0ff"/>
<rect x="201.95" y="54.52" width="1.3" height="1.3" fill="#1fc0ff"/>
<rect x="196.26" y="41.22" width="1.3" height="1.3" fill="#1fc0ff"/>
<rect x="194.48" y="49.37" width="1.3" height="1.3" fill="#1fc0ff"/>
<rect x="191.62" y="52.70" width="1.3" height="1.3" fill="#1fc0ff"/>
<rect x="202.57" y="55.58" width="1.3" height="1.3" fill="#1fc0ff"/>
<rect x="195.76" y="62.62" width="1.3" height="1.3" fill="#1fc0ff"/>
<rect x="206.85" y="54.35" width="1.3" height="1.3" fill="#1fc0ff"/>
<rect x="199.27" y="59.11" width="1.3" height="1.3" fill="#1fc0ff"/>
<rect x="199.15" y="51.52" width="1.3" height="1.3" fill="#1fc0ff"/>
<rect x="197.33" y="50.23" width="1.3" height="1.3" fill="#1fc0ff"/>
<rect x="185.43" y="44.32" width="1.3" height="1.3" fill="#1fc0ff"/>
<rect x="202.41" y="42.93" width="1.3" height="1.3" fill="#1fc0ff"/>
<rect x="197.10" y="41.71" width="1.3" height="1.3" fill="#1fc0ff"/>
<rect x="192.71" y="44.66" width="1.3" height="1.3" fill="#1fc0ff"/>
<rect x="198.03" y="38.58" width="1.3" height="1.3" fill="#1fc0ff"/>
<rect x="198.29" y="41.99" width="1.3" height="1.3" fill="#1fc0ff"/>
<rect x="196.42" y="49.73" width="1.3" height="1.3" fill="#1fc0ff"/>
<rect x="201.66" y="42.64" width="1.3" height="1.3" fill="#1fc0ff"/>
<rect x="197.26" y="65.54" width="1.3" height="1.3" fill="#1fc0ff"/>
<rect x="190.08" y="47.89" width="1.3" height="1.3" fill="#1fc0ff"/>
<rect x="205.64" y="49.29" width="1.3" height="1.3" fill="#1fc0ff"/>
<rect x="185.83" y="52.29" width="1.3" height="1.3" fill="#1fc0ff"/>
<rect x="194.73" y="47.97" width="1.3" height="1.3" fill="#1fc0ff"/>
<rect x="202.51" y="49.62" width="1.3" height="1.3" fill="#1fc0ff"/>
<rect x="188.54" y="41.81" width="1.3" height="1.3" fill="#1fc0ff"/>
<rect x="200.01" y="54.55" width="1.3" height="1.3" fill="#1fc0ff"/>
<rect x="193.06" y="56.27" width="1.3" height="1.3" fill="#1fc0ff"/>
<rect x="192.86" y="38.53" width="1.3" height="1.3" fill="#1fc0ff"/>
<rect x="200.04" y="47.25" width="1.3" height="1.3" fill="#1fc0ff"/>
<rect x="191.51" y="44.95" width="1.3" height="1.3" fill="#1fc0ff"/>
<rect x="204.31" y="50.21" width="1.3" height="1.3" fill="#1fc0ff"/>
<rect x="185.90" y="49.87" width="1.3" height="1.3" fill="#1fc0ff"/>
<rect x="185.84" y="43.40" width="1.3" height="1.3" fill="#1fc0ff"/>
<rect x="194.23" y="56.01" width="1.3" height="1.3" fill="#1fc0ff"/>
<rect x="188.98" y="40.61" width="1.3" height="1.3" fill="#1fc0ff"/>
<rect x="195.95" y="33.95" width="1.3" height="1.3" fill="#1fc0ff"/>
<rect x="195.75" y="36.55" width="1.3" height="1.3" fill="#1fc0ff"/>
<rect x="194.55" y="38.35" width="1.3" height="1.3" fill="#1fc0ff"/>
<rect x="197.25" y="38.55" width="1.3" height="1.3" fill="#1fc0ff"/>
<rect x="195.55" y="66.75" width="1.3" height="1.3" fill="#1fc0ff"/>
<rect x="196.15" y="68.35" width="1.3" height="1.3" fill="#1fc0ff"/>
<rect x="160.85" y="75.95" width="1.3" height="1.3" fill="#9c85dc"/>
<rect x="159.55" y="77.55" width="1.3" height="1.3" fill="#9c85dc"/>
<rect x="162.15" y="77.75" width="1.3" height="1.3" fill="#9c85dc"/>
<line x1="191.00" y1="44.90" x2="202.60" y2="44.90" stroke="#3a5ae0" stroke-width="0.8" />
<line x1="191.00" y1="58.50" x2="202.60" y2="58.50" stroke="#3a5ae0" stroke-width="0.8" />
<line x1="155.00" y1="83.50" x2="166.00" y2="83.50" stroke="#6e55c0" stroke-width="0.6" />
<line x1="155.00" y1="89.50" x2="166.00" y2="89.50" stroke="#6e55c0" stroke-width="0.6" />
<line x1="164.60" y1="24.80" x2="198.30" y2="24.80" stroke="#666" stroke-width="0.9" />
<text x="180.05" y="25.71" font-size="10.50" fill="#1a1a1a" stroke="#1a1a1a" stroke-width="0.2">*</text>
<text x="267.46" y="117.00" font-size="7.07" fill="#262626" stroke="#262626" stroke-width="0.2" textLength="17.10" lengthAdjust="spacingAndGlyphs">OLR1</text>
<text x="303.19" y="117.00" font-size="6.96" fill="#262626" stroke="#262626" stroke-width="0.2" textLength="19.69" lengthAdjust="spacingAndGlyphs">c-MYC</text>
<text x="238.00" y="94.28" font-size="7.21" fill="#262626" stroke="#262626" stroke-width="0.2" transform="rotate(-90 238.00 94.28)" textLength="58.23" lengthAdjust="spacingAndGlyphs">Relative expression</text>
<rect x="260.70" y="52.50" width="9.40" height="54.40" fill="#a48bd7" stroke="#5e4a9e" stroke-width="0.8"/>
<line x1="265.40" y1="52.10" x2="265.40" y2="45.80" stroke="#9484c8" stroke-width="0.9" />
<line x1="263.00" y1="45.80" x2="267.80" y2="45.80" stroke="#9484c8" stroke-width="0.9" />
<rect x="276.40" y="93.70" width="9.90" height="13.20" fill="#1ec8ff" stroke="#2a6ef5" stroke-width="0.8"/>
<line x1="281.30" y1="93.30" x2="281.30" y2="91.80" stroke="#6a9cf0" stroke-width="0.9" />
<line x1="278.90" y1="91.80" x2="283.70" y2="91.80" stroke="#6a9cf0" stroke-width="0.9" />
<rect x="302.60" y="52.50" width="9.60" height="54.40" fill="#a48bd7" stroke="#5e4a9e" stroke-width="0.8"/>
<line x1="307.40" y1="52.10" x2="307.40" y2="44.30" stroke="#9484c8" stroke-width="0.9" />
<line x1="305.00" y1="44.30" x2="309.80" y2="44.30" stroke="#9484c8" stroke-width="0.9" />
<rect x="318.40" y="97.40" width="9.70" height="9.50" fill="#1ec8ff" stroke="#2a6ef5" stroke-width="0.8"/>
<line x1="323.20" y1="97.00" x2="323.20" y2="95.20" stroke="#6a9cf0" stroke-width="0.9" />
<line x1="320.80" y1="95.20" x2="325.60" y2="95.20" stroke="#6a9cf0" stroke-width="0.9" />
<line x1="295.3" y1="25" x2="295.3" y2="106.5" stroke="#8a8a8a" stroke-width="0.9" stroke-dasharray="1,1"/>
<line x1="267.60" y1="39.40" x2="281.40" y2="39.40" stroke="#333" stroke-width="0.9" />
<text x="273.18" y="33.73" font-size="8.80" fill="#1a1a1a" stroke="#1a1a1a" stroke-width="0.2">*</text>
<line x1="308.30" y1="39.40" x2="325.80" y2="39.40" stroke="#333" stroke-width="0.9" />
<text x="315.48" y="33.73" font-size="8.80" fill="#1a1a1a" stroke="#1a1a1a" stroke-width="0.2">*</text>
<rect x="263.30" y="7.40" width="8.20" height="3.40" fill="#a48bd7" stroke="#5e4a9e" stroke-width="0.9"/>
<text x="276.55" y="11.90" font-size="7.27" fill="#262626" stroke="#262626" stroke-width="0.2" textLength="19.06" lengthAdjust="spacingAndGlyphs">sh-NC</text>
<rect x="263.30" y="16.50" width="8.20" height="3.40" fill="#1ec8ff" stroke="#2a6ef5" stroke-width="0.9"/>
<text x="276.54" y="21.00" font-size="7.40" fill="#262626" stroke="#262626" stroke-width="0.2" textLength="27.42" lengthAdjust="spacingAndGlyphs">sh-OLR1</text>
<text x="384.86" y="117.50" font-size="6.94" fill="#262626" stroke="#262626" stroke-width="0.2" textLength="16.79" lengthAdjust="spacingAndGlyphs">OLR1</text>
<text x="420.59" y="117.50" font-size="6.92" fill="#262626" stroke="#262626" stroke-width="0.2" textLength="19.58" lengthAdjust="spacingAndGlyphs">c-MYC</text>
<text x="354.40" y="109.51" font-size="7.58" fill="#3a3a3a" stroke="#3a3a3a" stroke-width="0.2" transform="rotate(-90 354.40 109.51)" textLength="84.63" lengthAdjust="spacingAndGlyphs">Relative protein expression</text>
<rect x="377.60" y="62.40" width="9.60" height="44.80" fill="#a48bd7" stroke="#5e4a9e" stroke-width="0.8"/>
<line x1="382.40" y1="62.00" x2="382.40" y2="56.80" stroke="#5e4a9e" stroke-width="0.9" />
<line x1="379.90" y1="56.80" x2="384.90" y2="56.80" stroke="#5e4a9e" stroke-width="0.9" />
<rect x="393.60" y="88.70" width="9.60" height="18.50" fill="#1ec8ff" stroke="#2a6ef5" stroke-width="0.8"/>
<line x1="398.40" y1="88.30" x2="398.40" y2="86.30" stroke="#2a6ef5" stroke-width="0.9" />
<line x1="395.90" y1="86.30" x2="400.90" y2="86.30" stroke="#2a6ef5" stroke-width="0.9" />
<rect x="419.80" y="41.00" width="9.60" height="66.20" fill="#a48bd7" stroke="#5e4a9e" stroke-width="0.8"/>
<line x1="424.60" y1="40.60" x2="424.60" y2="34.30" stroke="#5e4a9e" stroke-width="0.9" />
<line x1="422.10" y1="34.30" x2="427.10" y2="34.30" stroke="#5e4a9e" stroke-width="0.9" />
<rect x="435.70" y="93.40" width="9.50" height="13.80" fill="#1ec8ff" stroke="#2a6ef5" stroke-width="0.8"/>
<line x1="440.50" y1="93.00" x2="440.50" y2="90.50" stroke="#2a6ef5" stroke-width="0.9" />
<line x1="438.50" y1="90.50" x2="442.50" y2="90.50" stroke="#2a6ef5" stroke-width="0.9" />
<line x1="411.4" y1="25" x2="411.4" y2="107" stroke="#8a8a8a" stroke-width="0.9" stroke-dasharray="1,1"/>
<line x1="383.80" y1="49.40" x2="400.00" y2="49.40" stroke="#333" stroke-width="0.9" />
<text x="390.65" y="44.71" font-size="10.50" fill="#1a1a1a" stroke="#1a1a1a" stroke-width="0.2">*</text>
<line x1="426.30" y1="29.40" x2="440.50" y2="29.40" stroke="#333" stroke-width="0.9" />
<text x="431.75" y="25.01" font-size="10.50" fill="#1a1a1a" stroke="#1a1a1a" stroke-width="0.2">*</text>
<rect x="378.80" y="7.40" width="8.40" height="3.40" fill="#a48bd7" stroke="#5e4a9e" stroke-width="0.9"/>
<text x="391.85" y="11.90" font-size="7.27" fill="#262626" stroke="#262626" stroke-width="0.2" textLength="19.06" lengthAdjust="spacingAndGlyphs">sh-NC</text>
<rect x="378.80" y="16.50" width="8.40" height="3.40" fill="#1ec8ff" stroke="#2a6ef5" stroke-width="0.9"/>
<text x="391.85" y="21.00" font-size="7.35" fill="#262626" stroke="#262626" stroke-width="0.2" textLength="27.22" lengthAdjust="spacingAndGlyphs">sh-OLR1</text>
<text x="509.55" y="116.70" font-size="7.15" fill="#262626" stroke="#262626" stroke-width="0.2" textLength="18.75" lengthAdjust="spacingAndGlyphs">sh-NC</text>
<text x="536.36" y="116.70" font-size="6.85" fill="#262626" stroke="#262626" stroke-width="0.2" textLength="25.39" lengthAdjust="spacingAndGlyphs">sh-OLR1</text>
<text x="475.50" y="94.29" font-size="7.23" fill="#262626" stroke="#262626" stroke-width="0.2" transform="rotate(-90 475.50 94.29)" textLength="58.38" lengthAdjust="spacingAndGlyphs">Relative expression</text>
<rect x="504.70" y="51.80" width="21.50" height="54.40" fill="#a48bd7" stroke="#5e4a9e" stroke-width="0.8"/>
<line x1="515.40" y1="51.40" x2="515.40" y2="44.40" stroke="#5e4a9e" stroke-width="0.9" />
<line x1="510.10" y1="44.40" x2="520.70" y2="44.40" stroke="#5e4a9e" stroke-width="0.9" />
<rect x="538.40" y="93.60" width="21.90" height="12.60" fill="#1ec8ff" stroke="#2a6ef5" stroke-width="0.8"/>
<line x1="549.40" y1="93.20" x2="549.40" y2="91.30" stroke="#2a6ef5" stroke-width="0.9" />
<line x1="544.40" y1="91.30" x2="554.40" y2="91.30" stroke="#2a6ef5" stroke-width="0.9" />
<line x1="516.80" y1="36.20" x2="549.30" y2="36.20" stroke="#333" stroke-width="0.9" />
<text x="531.25" y="31.61" font-size="10.50" fill="#1a1a1a" stroke="#1a1a1a" stroke-width="0.2">*</text>
<text x="606.13" y="115.90" font-size="7.45" fill="#262626" stroke="#262626" stroke-width="0.2" textLength="11.51" lengthAdjust="spacingAndGlyphs">12h</text>
<text x="623.71" y="115.90" font-size="7.45" fill="#262626" stroke="#262626" stroke-width="0.2" textLength="11.51" lengthAdjust="spacingAndGlyphs">24h</text>
<text x="646.07" y="115.90" font-size="7.45" fill="#262626" stroke="#262626" stroke-width="0.2" textLength="11.51" lengthAdjust="spacingAndGlyphs">36h</text>
<text x="665.51" y="115.90" font-size="7.45" fill="#262626" stroke="#262626" stroke-width="0.2" textLength="11.51" lengthAdjust="spacingAndGlyphs">48h</text>
<text x="586.10" y="92.66" font-size="7.45" fill="#262626" stroke="#262626" stroke-width="0.2" transform="rotate(-90 586.10 92.66)" textLength="58.24" lengthAdjust="spacingAndGlyphs">OD value (490 nm)</text>
<polyline points="610.20,91.75 630.80,70.00 651.50,55.00 672.30,36.25" fill="none" stroke="#a48bd7" stroke-width="0.9"/>
<line x1="610.20" y1="89.75" x2="610.20" y2="93.75" stroke="#5a4696" stroke-width="0.7" />
<line x1="609.00" y1="89.75" x2="611.40" y2="89.75" stroke="#5a4696" stroke-width="0.7" />
<line x1="609.00" y1="93.75" x2="611.40" y2="93.75" stroke="#5a4696" stroke-width="0.7" />
<circle cx="610.20" cy="91.75" r="1.5" fill="#a48bd7"/>
<line x1="630.80" y1="67.50" x2="630.80" y2="72.50" stroke="#5a4696" stroke-width="0.7" />
<line x1="629.60" y1="67.50" x2="632.00" y2="67.50" stroke="#5a4696" stroke-width="0.7" />
<line x1="629.60" y1="72.50" x2="632.00" y2="72.50" stroke="#5a4696" stroke-width="0.7" />
<circle cx="630.80" cy="70.00" r="1.5" fill="#a48bd7"/>
<line x1="651.50" y1="52.50" x2="651.50" y2="57.50" stroke="#5a4696" stroke-width="0.7" />
<line x1="650.30" y1="52.50" x2="652.70" y2="52.50" stroke="#5a4696" stroke-width="0.7" />
<line x1="650.30" y1="57.50" x2="652.70" y2="57.50" stroke="#5a4696" stroke-width="0.7" />
<circle cx="651.50" cy="55.00" r="1.5" fill="#a48bd7"/>
<line x1="672.30" y1="31.25" x2="672.30" y2="41.25" stroke="#5a4696" stroke-width="0.7" />
<line x1="671.10" y1="31.25" x2="673.50" y2="31.25" stroke="#5a4696" stroke-width="0.7" />
<line x1="671.10" y1="41.25" x2="673.50" y2="41.25" stroke="#5a4696" stroke-width="0.7" />
<circle cx="672.30" cy="36.25" r="1.5" fill="#a48bd7"/>
<polyline points="610.20,93.75 630.80,82.00 651.50,69.50 672.30,55.50" fill="none" stroke="#1ec8ff" stroke-width="0.9"/>
<line x1="610.20" y1="92.25" x2="610.20" y2="95.25" stroke="#2a6cf0" stroke-width="0.7" />
<line x1="609.00" y1="92.25" x2="611.40" y2="92.25" stroke="#2a6cf0" stroke-width="0.7" />
<line x1="609.00" y1="95.25" x2="611.40" y2="95.25" stroke="#2a6cf0" stroke-width="0.7" />
<rect x="608.80" y="92.35" width="2.8" height="2.8" fill="#1ec8ff"/>
<line x1="630.80" y1="79.50" x2="630.80" y2="84.50" stroke="#2a6cf0" stroke-width="0.7" />
<line x1="629.60" y1="79.50" x2="632.00" y2="79.50" stroke="#2a6cf0" stroke-width="0.7" />
<line x1="629.60" y1="84.50" x2="632.00" y2="84.50" stroke="#2a6cf0" stroke-width="0.7" />
<rect x="629.40" y="80.60" width="2.8" height="2.8" fill="#1ec8ff"/>
<line x1="651.50" y1="67.00" x2="651.50" y2="72.00" stroke="#2a6cf0" stroke-width="0.7" />
<line x1="650.30" y1="67.00" x2="652.70" y2="67.00" stroke="#2a6cf0" stroke-width="0.7" />
<line x1="650.30" y1="72.00" x2="652.70" y2="72.00" stroke="#2a6cf0" stroke-width="0.7" />
<rect x="650.10" y="68.10" width="2.8" height="2.8" fill="#1ec8ff"/>
<line x1="672.30" y1="50.50" x2="672.30" y2="60.50" stroke="#2a6cf0" stroke-width="0.7" />
<line x1="671.10" y1="50.50" x2="673.50" y2="50.50" stroke="#2a6cf0" stroke-width="0.7" />
<line x1="671.10" y1="60.50" x2="673.50" y2="60.50" stroke="#2a6cf0" stroke-width="0.7" />
<rect x="670.90" y="54.10" width="2.8" height="2.8" fill="#1ec8ff"/>
<line x1="678.90" y1="33.20" x2="678.90" y2="59.80" stroke="#444" stroke-width="1.0" />
<text x="680.74" y="46.68" font-size="8.50" fill="#1a1a1a" stroke="#1a1a1a" stroke-width="0.2">*</text>
<line x1="604.30" y1="9.30" x2="613.00" y2="9.30" stroke="#a48bd7" stroke-width="0.7" />
<circle cx="608.6" cy="9.3" r="1.8" fill="#a48bd7"/>
<text x="617.64" y="12.00" font-size="7.54" fill="#262626" stroke="#262626" stroke-width="0.2" textLength="19.78" lengthAdjust="spacingAndGlyphs">sh-NC</text>
<line x1="604.30" y1="19.80" x2="613.00" y2="19.80" stroke="#1ec8ff" stroke-width="0.7" />
<rect x="606.9" y="18.1" width="3.4" height="3.4" fill="#1ec8ff"/>
<text x="617.65" y="22.00" font-size="7.37" fill="#262626" stroke="#262626" stroke-width="0.2" textLength="27.32" lengthAdjust="spacingAndGlyphs">sh-OLR1</text>
<text x="41.75" y="239.80" font-size="7.03" fill="#262626" stroke="#262626" stroke-width="0.2" textLength="18.45" lengthAdjust="spacingAndGlyphs">sh-NC</text>
<text x="68.46" y="239.80" font-size="6.82" fill="#262626" stroke="#262626" stroke-width="0.2" textLength="25.28" lengthAdjust="spacingAndGlyphs">sh-OLR1</text>
<text x="5.80" y="211.09" font-size="7.41" fill="#262626" stroke="#262626" stroke-width="0.2" transform="rotate(-90 5.80 211.09)" textLength="46.56" lengthAdjust="spacingAndGlyphs">Colony number</text>
<rect x="36.80" y="163.40" width="21.50" height="66.20" fill="#a48bd7" stroke="#3f2d7c" stroke-width="1.0"/>
<line x1="47.50" y1="163.20" x2="47.50" y2="155.50" stroke="#9a88cc" stroke-width="0.9" />
<line x1="42.25" y1="155.50" x2="52.75" y2="155.50" stroke="#9a88cc" stroke-width="0.9" />
<rect x="70.50" y="214.80" width="21.50" height="14.80" fill="#1ec8ff" stroke="#2a5ee8" stroke-width="1.0"/>
<line x1="81.20" y1="214.30" x2="81.20" y2="211.80" stroke="#7aa8f2" stroke-width="0.9" />
<line x1="76.20" y1="211.80" x2="86.20" y2="211.80" stroke="#7aa8f2" stroke-width="0.9" />
<line x1="49.30" y1="150.40" x2="81.30" y2="150.40" stroke="#333" stroke-width="0.9" />
<text x="63.95" y="145.39" font-size="9.50" fill="#1a1a1a" stroke="#1a1a1a" stroke-width="0.2">*</text>
<text x="140.61" y="239.40" font-size="6.91" fill="#262626" stroke="#262626" stroke-width="0.2" textLength="3.56" lengthAdjust="spacingAndGlyphs">0</text>
<text x="151.42" y="239.40" font-size="6.91" fill="#262626" stroke="#262626" stroke-width="0.2" textLength="8.90" lengthAdjust="spacingAndGlyphs">2.5</text>
<text x="167.82" y="239.40" font-size="6.91" fill="#262626" stroke="#262626" stroke-width="0.2" textLength="3.56" lengthAdjust="spacingAndGlyphs">5</text>
<text x="179.02" y="239.40" font-size="6.91" fill="#262626" stroke="#262626" stroke-width="0.2" textLength="7.12" lengthAdjust="spacingAndGlyphs">10</text>
<text x="192.50" y="239.40" font-size="6.91" fill="#262626" stroke="#262626" stroke-width="0.2" textLength="7.12" lengthAdjust="spacingAndGlyphs">20</text>
<text x="206.10" y="239.40" font-size="6.91" fill="#262626" stroke="#262626" stroke-width="0.2" textLength="7.12" lengthAdjust="spacingAndGlyphs">40</text>
<text x="159.58" y="245.30" font-size="7.19" fill="#262626" stroke="#262626" stroke-width="0.2" textLength="34.79" lengthAdjust="spacingAndGlyphs">5-Fu (mg/L)</text>
<text x="119.90" y="213.38" font-size="7.13" fill="#262626" stroke="#262626" stroke-width="0.2" transform="rotate(-90 119.90 213.38)" textLength="46.94" lengthAdjust="spacingAndGlyphs">Cell viability (%)</text>
<polyline points="142.40,176.30 155.90,178.80 169.60,185.00 182.70,193.00 196.10,195.00 209.60,199.30" fill="none" stroke="#a48bd7" stroke-width="0.9"/>
<line x1="142.40" y1="171.30" x2="142.40" y2="181.30" stroke="#5a4696" stroke-width="0.7" />
<line x1="141.20" y1="171.30" x2="143.60" y2="171.30" stroke="#5a4696" stroke-width="0.7" />
<line x1="141.20" y1="181.30" x2="143.60" y2="181.30" stroke="#5a4696" stroke-width="0.7" />
<circle cx="142.40" cy="176.30" r="1.5" fill="#a48bd7"/>
<line x1="155.90" y1="173.50" x2="155.90" y2="184.10" stroke="#5a4696" stroke-width="0.7" />
<line x1="154.70" y1="173.50" x2="157.10" y2="173.50" stroke="#5a4696" stroke-width="0.7" />
<line x1="154.70" y1="184.10" x2="157.10" y2="184.10" stroke="#5a4696" stroke-width="0.7" />
<circle cx="155.90" cy="178.80" r="1.5" fill="#a48bd7"/>
<line x1="169.60" y1="180.50" x2="169.60" y2="189.50" stroke="#5a4696" stroke-width="0.7" />
<line x1="168.40" y1="180.50" x2="170.80" y2="180.50" stroke="#5a4696" stroke-width="0.7" />
<line x1="168.40" y1="189.50" x2="170.80" y2="189.50" stroke="#5a4696" stroke-width="0.7" />
<circle cx="169.60" cy="185.00" r="1.5" fill="#a48bd7"/>
<line x1="182.70" y1="189.50" x2="182.70" y2="196.50" stroke="#5a4696" stroke-width="0.7" />
<line x1="181.50" y1="189.50" x2="183.90" y2="189.50" stroke="#5a4696" stroke-width="0.7" />
<line x1="181.50" y1="196.50" x2="183.90" y2="196.50" stroke="#5a4696" stroke-width="0.7" />
<circle cx="182.70" cy="193.00" r="1.5" fill="#a48bd7"/>
<line x1="196.10" y1="192.00" x2="196.10" y2="198.00" stroke="#5a4696" stroke-width="0.7" />
<line x1="194.90" y1="192.00" x2="197.30" y2="192.00" stroke="#5a4696" stroke-width="0.7" />
<line x1="194.90" y1="198.00" x2="197.30" y2="198.00" stroke="#5a4696" stroke-width="0.7" />
<circle cx="196.10" cy="195.00" r="1.5" fill="#a48bd7"/>
<line x1="209.60" y1="195.60" x2="209.60" y2="203.00" stroke="#5a4696" stroke-width="0.7" />
<line x1="208.40" y1="195.60" x2="210.80" y2="195.60" stroke="#5a4696" stroke-width="0.7" />
<line x1="208.40" y1="203.00" x2="210.80" y2="203.00" stroke="#5a4696" stroke-width="0.7" />
<circle cx="209.60" cy="199.30" r="1.5" fill="#a48bd7"/>
<polyline points="142.40,176.00 155.90,190.00 169.60,197.50 182.70,202.50 196.10,208.00 209.60,213.80" fill="none" stroke="#1ec8ff" stroke-width="0.9"/>
<line x1="142.40" y1="171.00" x2="142.40" y2="181.00" stroke="#2a6cf0" stroke-width="0.7" />
<line x1="141.20" y1="171.00" x2="143.60" y2="171.00" stroke="#2a6cf0" stroke-width="0.7" />
<line x1="141.20" y1="181.00" x2="143.60" y2="181.00" stroke="#2a6cf0" stroke-width="0.7" />
<rect x="141.00" y="174.60" width="2.8" height="2.8" fill="#1ec8ff"/>
<line x1="155.90" y1="188.00" x2="155.90" y2="192.00" stroke="#2a6cf0" stroke-width="0.7" />
<line x1="154.70" y1="188.00" x2="157.10" y2="188.00" stroke="#2a6cf0" stroke-width="0.7" />
<line x1="154.70" y1="192.00" x2="157.10" y2="192.00" stroke="#2a6cf0" stroke-width="0.7" />
<rect x="154.50" y="188.60" width="2.8" height="2.8" fill="#1ec8ff"/>
<line x1="169.60" y1="195.50" x2="169.60" y2="199.50" stroke="#2a6cf0" stroke-width="0.7" />
<line x1="168.40" y1="195.50" x2="170.80" y2="195.50" stroke="#2a6cf0" stroke-width="0.7" />
<line x1="168.40" y1="199.50" x2="170.80" y2="199.50" stroke="#2a6cf0" stroke-width="0.7" />
<rect x="168.20" y="196.10" width="2.8" height="2.8" fill="#1ec8ff"/>
<line x1="182.70" y1="200.50" x2="182.70" y2="204.50" stroke="#2a6cf0" stroke-width="0.7" />
<line x1="181.50" y1="200.50" x2="183.90" y2="200.50" stroke="#2a6cf0" stroke-width="0.7" />
<line x1="181.50" y1="204.50" x2="183.90" y2="204.50" stroke="#2a6cf0" stroke-width="0.7" />
<rect x="181.30" y="201.10" width="2.8" height="2.8" fill="#1ec8ff"/>
<line x1="196.10" y1="205.50" x2="196.10" y2="210.50" stroke="#2a6cf0" stroke-width="0.7" />
<line x1="194.90" y1="205.50" x2="197.30" y2="205.50" stroke="#2a6cf0" stroke-width="0.7" />
<line x1="194.90" y1="210.50" x2="197.30" y2="210.50" stroke="#2a6cf0" stroke-width="0.7" />
<rect x="194.70" y="206.60" width="2.8" height="2.8" fill="#1ec8ff"/>
<line x1="209.60" y1="210.50" x2="209.60" y2="217.10" stroke="#2a6cf0" stroke-width="0.7" />
<line x1="208.40" y1="210.50" x2="210.80" y2="210.50" stroke="#2a6cf0" stroke-width="0.7" />
<line x1="208.40" y1="217.10" x2="210.80" y2="217.10" stroke="#2a6cf0" stroke-width="0.7" />
<rect x="208.20" y="212.40" width="2.8" height="2.8" fill="#1ec8ff"/>
<line x1="216.10" y1="200.70" x2="216.10" y2="216.40" stroke="#8c8c8c" stroke-width="1.2" />
<text x="217.65" y="210.03" font-size="9.00" fill="#1a1a1a" stroke="#1a1a1a" stroke-width="0.2">*</text>
<line x1="140.10" y1="130.50" x2="148.80" y2="130.50" stroke="#a48bd7" stroke-width="0.9" />
<circle cx="144.45" cy="130.5" r="1.4" fill="#a48bd7"/>
<text x="153.35" y="132.90" font-size="7.19" fill="#262626" stroke="#262626" stroke-width="0.2" textLength="18.86" lengthAdjust="spacingAndGlyphs">sh-NC</text>
<line x1="140.10" y1="141.40" x2="148.80" y2="141.40" stroke="#1ec8ff" stroke-width="0.9" />
<rect x="143.12" y="140.07" width="2.66" height="2.66" fill="#1ec8ff"/>
<text x="153.36" y="143.80" font-size="6.93" fill="#262626" stroke="#262626" stroke-width="0.2" textLength="25.69" lengthAdjust="spacingAndGlyphs">sh-OLR1</text>
<text x="259.91" y="239.40" font-size="6.91" fill="#262626" stroke="#262626" stroke-width="0.2" textLength="3.56" lengthAdjust="spacingAndGlyphs">0</text>
<text x="271.22" y="239.40" font-size="6.91" fill="#262626" stroke="#262626" stroke-width="0.2" textLength="8.90" lengthAdjust="spacingAndGlyphs">2.5</text>
<text x="287.42" y="239.40" font-size="6.91" fill="#262626" stroke="#262626" stroke-width="0.2" textLength="3.56" lengthAdjust="spacingAndGlyphs">5</text>
<text x="299.22" y="239.40" font-size="6.91" fill="#262626" stroke="#262626" stroke-width="0.2" textLength="7.12" lengthAdjust="spacingAndGlyphs">10</text>
<text x="312.90" y="239.40" font-size="6.91" fill="#262626" stroke="#262626" stroke-width="0.2" textLength="7.12" lengthAdjust="spacingAndGlyphs">20</text>
<text x="326.80" y="239.40" font-size="6.91" fill="#262626" stroke="#262626" stroke-width="0.2" textLength="7.12" lengthAdjust="spacingAndGlyphs">40</text>
<text x="275.38" y="245.30" font-size="7.41" fill="#262626" stroke="#262626" stroke-width="0.2" textLength="46.52" lengthAdjust="spacingAndGlyphs">cisplatin (mg/L)</text>
<text x="238.30" y="213.09" font-size="7.42" fill="#262626" stroke="#262626" stroke-width="0.2" transform="rotate(-90 238.30 213.09)" textLength="48.87" lengthAdjust="spacingAndGlyphs">Cell viability (%)</text>
<polyline points="261.70,175.50 275.70,180.00 289.20,188.30 302.90,202.30 316.50,207.30 330.30,214.30" fill="none" stroke="#a48bd7" stroke-width="0.9"/>
<line x1="261.70" y1="171.50" x2="261.70" y2="179.50" stroke="#5a4696" stroke-width="0.7" />
<line x1="260.50" y1="171.50" x2="262.90" y2="171.50" stroke="#5a4696" stroke-width="0.7" />
<line x1="260.50" y1="179.50" x2="262.90" y2="179.50" stroke="#5a4696" stroke-width="0.7" />
<circle cx="261.70" cy="175.50" r="1.5" fill="#a48bd7"/>
<line x1="275.70" y1="177.50" x2="275.70" y2="182.50" stroke="#5a4696" stroke-width="0.7" />
<line x1="274.50" y1="177.50" x2="276.90" y2="177.50" stroke="#5a4696" stroke-width="0.7" />
<line x1="274.50" y1="182.50" x2="276.90" y2="182.50" stroke="#5a4696" stroke-width="0.7" />
<circle cx="275.70" cy="180.00" r="1.5" fill="#a48bd7"/>
<line x1="289.20" y1="185.80" x2="289.20" y2="190.80" stroke="#5a4696" stroke-width="0.7" />
<line x1="288.00" y1="185.80" x2="290.40" y2="185.80" stroke="#5a4696" stroke-width="0.7" />
<line x1="288.00" y1="190.80" x2="290.40" y2="190.80" stroke="#5a4696" stroke-width="0.7" />
<circle cx="289.20" cy="188.30" r="1.5" fill="#a48bd7"/>
<line x1="302.90" y1="200.30" x2="302.90" y2="204.30" stroke="#5a4696" stroke-width="0.7" />
<line x1="301.70" y1="200.30" x2="304.10" y2="200.30" stroke="#5a4696" stroke-width="0.7" />
<line x1="301.70" y1="204.30" x2="304.10" y2="204.30" stroke="#5a4696" stroke-width="0.7" />
<circle cx="302.90" cy="202.30" r="1.5" fill="#a48bd7"/>
<line x1="316.50" y1="204.80" x2="316.50" y2="209.80" stroke="#5a4696" stroke-width="0.7" />
<line x1="315.30" y1="204.80" x2="317.70" y2="204.80" stroke="#5a4696" stroke-width="0.7" />
<line x1="315.30" y1="209.80" x2="317.70" y2="209.80" stroke="#5a4696" stroke-width="0.7" />
<circle cx="316.50" cy="207.30" r="1.5" fill="#a48bd7"/>
<line x1="330.30" y1="212.30" x2="330.30" y2="216.30" stroke="#5a4696" stroke-width="0.7" />
<line x1="329.10" y1="212.30" x2="331.50" y2="212.30" stroke="#5a4696" stroke-width="0.7" />
<line x1="329.10" y1="216.30" x2="331.50" y2="216.30" stroke="#5a4696" stroke-width="0.7" />
<circle cx="330.30" cy="214.30" r="1.5" fill="#a48bd7"/>
<polyline points="261.70,176.30 275.70,190.80 289.20,200.00 302.90,211.00 316.50,218.00 330.30,222.30" fill="none" stroke="#1ec8ff" stroke-width="0.9"/>
<line x1="261.70" y1="174.30" x2="261.70" y2="178.30" stroke="#2a6cf0" stroke-width="0.7" />
<line x1="260.50" y1="174.30" x2="262.90" y2="174.30" stroke="#2a6cf0" stroke-width="0.7" />
<line x1="260.50" y1="178.30" x2="262.90" y2="178.30" stroke="#2a6cf0" stroke-width="0.7" />
<rect x="260.30" y="174.90" width="2.8" height="2.8" fill="#1ec8ff"/>
<line x1="275.70" y1="188.80" x2="275.70" y2="192.80" stroke="#2a6cf0" stroke-width="0.7" />
<line x1="274.50" y1="188.80" x2="276.90" y2="188.80" stroke="#2a6cf0" stroke-width="0.7" />
<line x1="274.50" y1="192.80" x2="276.90" y2="192.80" stroke="#2a6cf0" stroke-width="0.7" />
<rect x="274.30" y="189.40" width="2.8" height="2.8" fill="#1ec8ff"/>
<line x1="289.20" y1="198.00" x2="289.20" y2="202.00" stroke="#2a6cf0" stroke-width="0.7" />
<line x1="288.00" y1="198.00" x2="290.40" y2="198.00" stroke="#2a6cf0" stroke-width="0.7" />
<line x1="288.00" y1="202.00" x2="290.40" y2="202.00" stroke="#2a6cf0" stroke-width="0.7" />
<rect x="287.80" y="198.60" width="2.8" height="2.8" fill="#1ec8ff"/>
<line x1="302.90" y1="208.50" x2="302.90" y2="213.50" stroke="#2a6cf0" stroke-width="0.7" />
<line x1="301.70" y1="208.50" x2="304.10" y2="208.50" stroke="#2a6cf0" stroke-width="0.7" />
<line x1="301.70" y1="213.50" x2="304.10" y2="213.50" stroke="#2a6cf0" stroke-width="0.7" />
<rect x="301.50" y="209.60" width="2.8" height="2.8" fill="#1ec8ff"/>
<line x1="316.50" y1="215.50" x2="316.50" y2="220.50" stroke="#2a6cf0" stroke-width="0.7" />
<line x1="315.30" y1="215.50" x2="317.70" y2="215.50" stroke="#2a6cf0" stroke-width="0.7" />
<line x1="315.30" y1="220.50" x2="317.70" y2="220.50" stroke="#2a6cf0" stroke-width="0.7" />
<rect x="315.10" y="216.60" width="2.8" height="2.8" fill="#1ec8ff"/>
<line x1="330.30" y1="219.80" x2="330.30" y2="224.80" stroke="#2a6cf0" stroke-width="0.7" />
<line x1="329.10" y1="219.80" x2="331.50" y2="219.80" stroke="#2a6cf0" stroke-width="0.7" />
<line x1="329.10" y1="224.80" x2="331.50" y2="224.80" stroke="#2a6cf0" stroke-width="0.7" />
<rect x="328.90" y="220.90" width="2.8" height="2.8" fill="#1ec8ff"/>
<line x1="334.60" y1="214.30" x2="334.60" y2="226.40" stroke="#606060" stroke-width="1.2" />
<text x="336.75" y="221.83" font-size="9.00" fill="#1a1a1a" stroke="#1a1a1a" stroke-width="0.2">*</text>
<line x1="261.40" y1="130.50" x2="270.10" y2="130.50" stroke="#a48bd7" stroke-width="0.9" />
<circle cx="265.75" cy="130.5" r="1.4" fill="#a48bd7"/>
<text x="274.84" y="132.90" font-size="7.46" fill="#262626" stroke="#262626" stroke-width="0.2" textLength="19.57" lengthAdjust="spacingAndGlyphs">sh-NC</text>
<line x1="261.40" y1="141.40" x2="270.10" y2="141.40" stroke="#1ec8ff" stroke-width="0.9" />
<rect x="264.42" y="140.07" width="2.66" height="2.66" fill="#1ec8ff"/>
<text x="274.85" y="143.80" font-size="7.07" fill="#262626" stroke="#262626" stroke-width="0.2" textLength="26.20" lengthAdjust="spacingAndGlyphs">sh-OLR1</text>
<text x="377.41" y="239.40" font-size="6.91" fill="#262626" stroke="#262626" stroke-width="0.2" textLength="3.56" lengthAdjust="spacingAndGlyphs">0</text>
<text x="388.82" y="239.40" font-size="6.91" fill="#262626" stroke="#262626" stroke-width="0.2" textLength="8.90" lengthAdjust="spacingAndGlyphs">2.5</text>
<text x="405.02" y="239.40" font-size="6.91" fill="#262626" stroke="#262626" stroke-width="0.2" textLength="3.56" lengthAdjust="spacingAndGlyphs">5</text>
<text x="416.92" y="239.40" font-size="6.91" fill="#262626" stroke="#262626" stroke-width="0.2" textLength="7.12" lengthAdjust="spacingAndGlyphs">10</text>
<text x="430.80" y="239.40" font-size="6.91" fill="#262626" stroke="#262626" stroke-width="0.2" textLength="7.12" lengthAdjust="spacingAndGlyphs">20</text>
<text x="444.90" y="239.40" font-size="6.91" fill="#262626" stroke="#262626" stroke-width="0.2" textLength="7.12" lengthAdjust="spacingAndGlyphs">40</text>
<text x="389.24" y="245.30" font-size="7.47" fill="#262626" stroke="#262626" stroke-width="0.2" textLength="54.23" lengthAdjust="spacingAndGlyphs">Oxaliplatin (mg/L)</text>
<text x="354.50" y="214.13" font-size="8.22" fill="#262626" stroke="#262626" stroke-width="0.2" transform="rotate(-90 354.50 214.13)" textLength="54.16" lengthAdjust="spacingAndGlyphs">Cell viability (%)</text>
<polyline points="379.20,171.30 393.30,179.50 406.80,187.50 420.60,194.00 434.40,202.30 448.40,207.80" fill="none" stroke="#a48bd7" stroke-width="0.9"/>
<line x1="379.20" y1="164.30" x2="379.20" y2="178.30" stroke="#5a4696" stroke-width="0.7" />
<line x1="378.00" y1="164.30" x2="380.40" y2="164.30" stroke="#5a4696" stroke-width="0.7" />
<line x1="378.00" y1="178.30" x2="380.40" y2="178.30" stroke="#5a4696" stroke-width="0.7" />
<circle cx="379.20" cy="171.30" r="1.5" fill="#a48bd7"/>
<line x1="393.30" y1="175.50" x2="393.30" y2="183.50" stroke="#5a4696" stroke-width="0.7" />
<line x1="392.10" y1="175.50" x2="394.50" y2="175.50" stroke="#5a4696" stroke-width="0.7" />
<line x1="392.10" y1="183.50" x2="394.50" y2="183.50" stroke="#5a4696" stroke-width="0.7" />
<circle cx="393.30" cy="179.50" r="1.5" fill="#a48bd7"/>
<line x1="406.80" y1="183.50" x2="406.80" y2="191.50" stroke="#5a4696" stroke-width="0.7" />
<line x1="405.60" y1="183.50" x2="408.00" y2="183.50" stroke="#5a4696" stroke-width="0.7" />
<line x1="405.60" y1="191.50" x2="408.00" y2="191.50" stroke="#5a4696" stroke-width="0.7" />
<circle cx="406.80" cy="187.50" r="1.5" fill="#a48bd7"/>
<line x1="420.60" y1="191.00" x2="420.60" y2="197.00" stroke="#5a4696" stroke-width="0.7" />
<line x1="419.40" y1="191.00" x2="421.80" y2="191.00" stroke="#5a4696" stroke-width="0.7" />
<line x1="419.40" y1="197.00" x2="421.80" y2="197.00" stroke="#5a4696" stroke-width="0.7" />
<circle cx="420.60" cy="194.00" r="1.5" fill="#a48bd7"/>
<line x1="434.40" y1="198.80" x2="434.40" y2="205.80" stroke="#5a4696" stroke-width="0.7" />
<line x1="433.20" y1="198.80" x2="435.60" y2="198.80" stroke="#5a4696" stroke-width="0.7" />
<line x1="433.20" y1="205.80" x2="435.60" y2="205.80" stroke="#5a4696" stroke-width="0.7" />
<circle cx="434.40" cy="202.30" r="1.5" fill="#a48bd7"/>
<line x1="448.40" y1="204.30" x2="448.40" y2="211.30" stroke="#5a4696" stroke-width="0.7" />
<line x1="447.20" y1="204.30" x2="449.60" y2="204.30" stroke="#5a4696" stroke-width="0.7" />
<line x1="447.20" y1="211.30" x2="449.60" y2="211.30" stroke="#5a4696" stroke-width="0.7" />
<circle cx="448.40" cy="207.80" r="1.5" fill="#a48bd7"/>
<polyline points="379.20,170.00 393.30,192.00 406.80,200.00 420.60,211.20 434.40,215.30 448.40,217.30" fill="none" stroke="#1ec8ff" stroke-width="0.9"/>
<line x1="379.20" y1="166.00" x2="379.20" y2="174.00" stroke="#2a6cf0" stroke-width="0.7" />
<line x1="378.00" y1="166.00" x2="380.40" y2="166.00" stroke="#2a6cf0" stroke-width="0.7" />
<line x1="378.00" y1="174.00" x2="380.40" y2="174.00" stroke="#2a6cf0" stroke-width="0.7" />
<rect x="377.80" y="168.60" width="2.8" height="2.8" fill="#1ec8ff"/>
<line x1="393.30" y1="188.50" x2="393.30" y2="195.50" stroke="#2a6cf0" stroke-width="0.7" />
<line x1="392.10" y1="188.50" x2="394.50" y2="188.50" stroke="#2a6cf0" stroke-width="0.7" />
<line x1="392.10" y1="195.50" x2="394.50" y2="195.50" stroke="#2a6cf0" stroke-width="0.7" />
<rect x="391.90" y="190.60" width="2.8" height="2.8" fill="#1ec8ff"/>
<line x1="406.80" y1="196.50" x2="406.80" y2="203.50" stroke="#2a6cf0" stroke-width="0.7" />
<line x1="405.60" y1="196.50" x2="408.00" y2="196.50" stroke="#2a6cf0" stroke-width="0.7" />
<line x1="405.60" y1="203.50" x2="408.00" y2="203.50" stroke="#2a6cf0" stroke-width="0.7" />
<rect x="405.40" y="198.60" width="2.8" height="2.8" fill="#1ec8ff"/>
<line x1="420.60" y1="209.20" x2="420.60" y2="213.20" stroke="#2a6cf0" stroke-width="0.7" />
<line x1="419.40" y1="209.20" x2="421.80" y2="209.20" stroke="#2a6cf0" stroke-width="0.7" />
<line x1="419.40" y1="213.20" x2="421.80" y2="213.20" stroke="#2a6cf0" stroke-width="0.7" />
<rect x="419.20" y="209.80" width="2.8" height="2.8" fill="#1ec8ff"/>
<line x1="434.40" y1="213.30" x2="434.40" y2="217.30" stroke="#2a6cf0" stroke-width="0.7" />
<line x1="433.20" y1="213.30" x2="435.60" y2="213.30" stroke="#2a6cf0" stroke-width="0.7" />
<line x1="433.20" y1="217.30" x2="435.60" y2="217.30" stroke="#2a6cf0" stroke-width="0.7" />
<rect x="433.00" y="213.90" width="2.8" height="2.8" fill="#1ec8ff"/>
<line x1="448.40" y1="215.30" x2="448.40" y2="219.30" stroke="#2a6cf0" stroke-width="0.7" />
<line x1="447.20" y1="215.30" x2="449.60" y2="215.30" stroke="#2a6cf0" stroke-width="0.7" />
<line x1="447.20" y1="219.30" x2="449.60" y2="219.30" stroke="#2a6cf0" stroke-width="0.7" />
<rect x="447.00" y="215.90" width="2.8" height="2.8" fill="#1ec8ff"/>
<line x1="451.30" y1="206.80" x2="451.30" y2="220.90" stroke="#606060" stroke-width="1.2" />
<text x="453.64" y="215.13" font-size="9.00" fill="#1a1a1a" stroke="#1a1a1a" stroke-width="0.2">*</text>
<line x1="378.80" y1="130.50" x2="388.00" y2="130.50" stroke="#a48bd7" stroke-width="0.9" />
<circle cx="383.40" cy="130.5" r="1.6" fill="#a48bd7"/>
<text x="392.73" y="132.90" font-size="7.85" fill="#262626" stroke="#262626" stroke-width="0.2" textLength="20.60" lengthAdjust="spacingAndGlyphs">sh-NC</text>
<line x1="378.80" y1="141.40" x2="388.00" y2="141.40" stroke="#1ec8ff" stroke-width="0.9" />
<rect x="381.88" y="139.88" width="3.04" height="3.04" fill="#1ec8ff"/>
<text x="392.75" y="143.80" font-size="7.37" fill="#262626" stroke="#262626" stroke-width="0.2" textLength="27.32" lengthAdjust="spacingAndGlyphs">sh-OLR1</text>
<text x="496.71" y="239.40" font-size="6.91" fill="#262626" stroke="#262626" stroke-width="0.2" textLength="3.56" lengthAdjust="spacingAndGlyphs">0</text>
<text x="506.92" y="239.40" font-size="6.91" fill="#262626" stroke="#262626" stroke-width="0.2" textLength="8.90" lengthAdjust="spacingAndGlyphs">2.5</text>
<text x="522.62" y="239.40" font-size="6.91" fill="#262626" stroke="#262626" stroke-width="0.2" textLength="3.56" lengthAdjust="spacingAndGlyphs">5</text>
<text x="533.62" y="239.40" font-size="6.91" fill="#262626" stroke="#262626" stroke-width="0.2" textLength="7.12" lengthAdjust="spacingAndGlyphs">10</text>
<text x="546.80" y="239.40" font-size="6.91" fill="#262626" stroke="#262626" stroke-width="0.2" textLength="7.12" lengthAdjust="spacingAndGlyphs">20</text>
<text x="559.80" y="239.40" font-size="6.91" fill="#262626" stroke="#262626" stroke-width="0.2" textLength="7.12" lengthAdjust="spacingAndGlyphs">40</text>
<text x="506.11" y="245.30" font-size="7.27" fill="#262626" stroke="#262626" stroke-width="0.2" textLength="50.16" lengthAdjust="spacingAndGlyphs">Paclitaxel (mg/L)</text>
<text x="475.40" y="212.90" font-size="7.48" fill="#262626" stroke="#262626" stroke-width="0.2" transform="rotate(-90 475.40 212.90)" textLength="49.28" lengthAdjust="spacingAndGlyphs">Cell viability (%)</text>
<polyline points="498.50,171.80 511.40,180.00 524.40,186.30 537.30,191.80 550.40,199.00 563.30,203.50" fill="none" stroke="#a48bd7" stroke-width="0.9"/>
<line x1="498.50" y1="168.30" x2="498.50" y2="175.30" stroke="#5a4696" stroke-width="0.7" />
<line x1="497.30" y1="168.30" x2="499.70" y2="168.30" stroke="#5a4696" stroke-width="0.7" />
<line x1="497.30" y1="175.30" x2="499.70" y2="175.30" stroke="#5a4696" stroke-width="0.7" />
<circle cx="498.50" cy="171.80" r="1.5" fill="#a48bd7"/>
<line x1="511.40" y1="177.00" x2="511.40" y2="183.00" stroke="#5a4696" stroke-width="0.7" />
<line x1="510.20" y1="177.00" x2="512.60" y2="177.00" stroke="#5a4696" stroke-width="0.7" />
<line x1="510.20" y1="183.00" x2="512.60" y2="183.00" stroke="#5a4696" stroke-width="0.7" />
<circle cx="511.40" cy="180.00" r="1.5" fill="#a48bd7"/>
<line x1="524.40" y1="182.80" x2="524.40" y2="189.80" stroke="#5a4696" stroke-width="0.7" />
<line x1="523.20" y1="182.80" x2="525.60" y2="182.80" stroke="#5a4696" stroke-width="0.7" />
<line x1="523.20" y1="189.80" x2="525.60" y2="189.80" stroke="#5a4696" stroke-width="0.7" />
<circle cx="524.40" cy="186.30" r="1.5" fill="#a48bd7"/>
<line x1="537.30" y1="188.80" x2="537.30" y2="194.80" stroke="#5a4696" stroke-width="0.7" />
<line x1="536.10" y1="188.80" x2="538.50" y2="188.80" stroke="#5a4696" stroke-width="0.7" />
<line x1="536.10" y1="194.80" x2="538.50" y2="194.80" stroke="#5a4696" stroke-width="0.7" />
<circle cx="537.30" cy="191.80" r="1.5" fill="#a48bd7"/>
<line x1="550.40" y1="196.00" x2="550.40" y2="202.00" stroke="#5a4696" stroke-width="0.7" />
<line x1="549.20" y1="196.00" x2="551.60" y2="196.00" stroke="#5a4696" stroke-width="0.7" />
<line x1="549.20" y1="202.00" x2="551.60" y2="202.00" stroke="#5a4696" stroke-width="0.7" />
<circle cx="550.40" cy="199.00" r="1.5" fill="#a48bd7"/>
<line x1="563.30" y1="201.50" x2="563.30" y2="205.50" stroke="#5a4696" stroke-width="0.7" />
<line x1="562.10" y1="201.50" x2="564.50" y2="201.50" stroke="#5a4696" stroke-width="0.7" />
<line x1="562.10" y1="205.50" x2="564.50" y2="205.50" stroke="#5a4696" stroke-width="0.7" />
<circle cx="563.30" cy="203.50" r="1.5" fill="#a48bd7"/>
<polyline points="498.50,174.50 511.40,190.00 524.40,196.30 537.30,203.00 550.40,211.80 563.30,215.30" fill="none" stroke="#1ec8ff" stroke-width="0.9"/>
<line x1="498.50" y1="172.50" x2="498.50" y2="176.50" stroke="#2a6cf0" stroke-width="0.7" />
<line x1="497.30" y1="172.50" x2="499.70" y2="172.50" stroke="#2a6cf0" stroke-width="0.7" />
<line x1="497.30" y1="176.50" x2="499.70" y2="176.50" stroke="#2a6cf0" stroke-width="0.7" />
<rect x="497.10" y="173.10" width="2.8" height="2.8" fill="#1ec8ff"/>
<line x1="511.40" y1="187.00" x2="511.40" y2="193.00" stroke="#2a6cf0" stroke-width="0.7" />
<line x1="510.20" y1="187.00" x2="512.60" y2="187.00" stroke="#2a6cf0" stroke-width="0.7" />
<line x1="510.20" y1="193.00" x2="512.60" y2="193.00" stroke="#2a6cf0" stroke-width="0.7" />
<rect x="510.00" y="188.60" width="2.8" height="2.8" fill="#1ec8ff"/>
<line x1="524.40" y1="193.80" x2="524.40" y2="198.80" stroke="#2a6cf0" stroke-width="0.7" />
<line x1="523.20" y1="193.80" x2="525.60" y2="193.80" stroke="#2a6cf0" stroke-width="0.7" />
<line x1="523.20" y1="198.80" x2="525.60" y2="198.80" stroke="#2a6cf0" stroke-width="0.7" />
<rect x="523.00" y="194.90" width="2.8" height="2.8" fill="#1ec8ff"/>
<line x1="537.30" y1="201.00" x2="537.30" y2="205.00" stroke="#2a6cf0" stroke-width="0.7" />
<line x1="536.10" y1="201.00" x2="538.50" y2="201.00" stroke="#2a6cf0" stroke-width="0.7" />
<line x1="536.10" y1="205.00" x2="538.50" y2="205.00" stroke="#2a6cf0" stroke-width="0.7" />
<rect x="535.90" y="201.60" width="2.8" height="2.8" fill="#1ec8ff"/>
<line x1="550.40" y1="209.80" x2="550.40" y2="213.80" stroke="#2a6cf0" stroke-width="0.7" />
<line x1="549.20" y1="209.80" x2="551.60" y2="209.80" stroke="#2a6cf0" stroke-width="0.7" />
<line x1="549.20" y1="213.80" x2="551.60" y2="213.80" stroke="#2a6cf0" stroke-width="0.7" />
<rect x="549.00" y="210.40" width="2.8" height="2.8" fill="#1ec8ff"/>
<line x1="563.30" y1="213.30" x2="563.30" y2="217.30" stroke="#2a6cf0" stroke-width="0.7" />
<line x1="562.10" y1="213.30" x2="564.50" y2="213.30" stroke="#2a6cf0" stroke-width="0.7" />
<line x1="562.10" y1="217.30" x2="564.50" y2="217.30" stroke="#2a6cf0" stroke-width="0.7" />
<rect x="561.90" y="213.90" width="2.8" height="2.8" fill="#1ec8ff"/>
<line x1="569.00" y1="202.10" x2="569.00" y2="218.20" stroke="#707070" stroke-width="1.2" />
<text x="571.64" y="211.13" font-size="9.00" fill="#1a1a1a" stroke="#1a1a1a" stroke-width="0.2">*</text>
<line x1="500.10" y1="130.50" x2="509.10" y2="130.50" stroke="#a48bd7" stroke-width="0.9" />
<circle cx="504.60" cy="130.5" r="1.5" fill="#a48bd7"/>
<text x="513.84" y="132.90" font-size="7.54" fill="#262626" stroke="#262626" stroke-width="0.2" textLength="19.78" lengthAdjust="spacingAndGlyphs">sh-NC</text>
<line x1="500.10" y1="141.40" x2="509.10" y2="141.40" stroke="#1ec8ff" stroke-width="0.9" />
<rect x="503.18" y="139.97" width="2.85" height="2.85" fill="#1ec8ff"/>
<text x="513.85" y="143.80" font-size="7.26" fill="#262626" stroke="#262626" stroke-width="0.2" textLength="26.91" lengthAdjust="spacingAndGlyphs">sh-OLR1</text>
<text x="611.31" y="239.90" font-size="7.33" fill="#262626" stroke="#262626" stroke-width="0.2" textLength="14.33" lengthAdjust="spacingAndGlyphs">P-gp</text>
<text x="649.16" y="239.90" font-size="7.05" fill="#262626" stroke="#262626" stroke-width="0.2" textLength="22.49" lengthAdjust="spacingAndGlyphs">SMAD4</text>
<text x="585.30" y="216.98" font-size="7.21" fill="#262626" stroke="#262626" stroke-width="0.2" transform="rotate(-90 585.30 216.98)" textLength="58.28" lengthAdjust="spacingAndGlyphs">Relative expression</text>
<rect x="605.60" y="209.70" width="9.90" height="19.90" fill="#a48bd7" stroke="#5e4a9e" stroke-width="0.8"/>
<line x1="610.50" y1="209.30" x2="610.50" y2="206.00" stroke="#5e4a9e" stroke-width="0.9" />
<line x1="608.00" y1="206.00" x2="613.00" y2="206.00" stroke="#5e4a9e" stroke-width="0.9" />
<rect x="621.50" y="225.20" width="10.10" height="4.40" fill="#1ec8ff" stroke="#2a6ef5" stroke-width="0.8"/>
<line x1="626.50" y1="224.80" x2="626.50" y2="223.90" stroke="#4a7af0" stroke-width="0.9" />
<line x1="624.00" y1="223.90" x2="629.00" y2="223.90" stroke="#4a7af0" stroke-width="0.9" />
<rect x="647.50" y="209.70" width="10.00" height="19.90" fill="#a48bd7" stroke="#5e4a9e" stroke-width="0.8"/>
<line x1="652.50" y1="209.30" x2="652.50" y2="206.50" stroke="#5e4a9e" stroke-width="0.9" />
<line x1="650.00" y1="206.50" x2="655.00" y2="206.50" stroke="#5e4a9e" stroke-width="0.9" />
<rect x="663.40" y="168.70" width="10.00" height="60.90" fill="#1ec8ff" stroke="#2a6ef5" stroke-width="0.8"/>
<line x1="668.40" y1="168.30" x2="668.40" y2="163.30" stroke="#2a6ef5" stroke-width="0.9" />
<line x1="665.90" y1="163.30" x2="670.90" y2="163.30" stroke="#2a6ef5" stroke-width="0.9" />
<line x1="641.3" y1="148" x2="641.3" y2="229.3" stroke="#8a8a8a" stroke-width="0.9" stroke-dasharray="1,1"/>
<line x1="610.00" y1="200.50" x2="624.00" y2="200.50" stroke="#333" stroke-width="0.9" />
<text x="615.05" y="195.49" font-size="9.50" fill="#1a1a1a" stroke="#1a1a1a" stroke-width="0.2">*</text>
<line x1="655.10" y1="158.50" x2="668.90" y2="158.50" stroke="#333" stroke-width="0.9" />
<text x="660.05" y="153.49" font-size="9.50" fill="#1a1a1a" stroke="#1a1a1a" stroke-width="0.2">*</text>
<rect x="607.00" y="128.80" width="8.70" height="3.60" fill="#a48bd7" stroke="#5e4a9e" stroke-width="0.9"/>
<text x="620.39" y="133.00" font-size="7.44" fill="#262626" stroke="#262626" stroke-width="0.2" textLength="19.52" lengthAdjust="spacingAndGlyphs">sh-NC</text>
<rect x="607.00" y="139.50" width="8.70" height="3.60" fill="#1ec8ff" stroke="#2a6ef5" stroke-width="0.9"/>
<text x="620.40" y="143.80" font-size="7.31" fill="#262626" stroke="#262626" stroke-width="0.2" textLength="27.07" lengthAdjust="spacingAndGlyphs">sh-OLR1</text>
<line x1="136.50" y1="24.00" x2="136.50" y2="108.00" stroke="#2b2b2b" stroke-width="1.0" />
<line x1="132.90" y1="107.50" x2="136.50" y2="107.50" stroke="#2b2b2b" stroke-width="0.9" />
<text x="128.41" y="109.95" font-size="7.56" fill="#262626" stroke="#262626" stroke-width="0.2" textLength="3.89" lengthAdjust="spacingAndGlyphs">0</text>
<line x1="132.90" y1="86.50" x2="136.50" y2="86.50" stroke="#2b2b2b" stroke-width="0.9" />
<text x="124.53" y="88.95" font-size="7.56" fill="#262626" stroke="#262626" stroke-width="0.2" textLength="7.79" lengthAdjust="spacingAndGlyphs">20</text>
<line x1="132.90" y1="65.50" x2="136.50" y2="65.50" stroke="#2b2b2b" stroke-width="0.9" />
<text x="124.53" y="67.95" font-size="7.56" fill="#262626" stroke="#262626" stroke-width="0.2" textLength="7.79" lengthAdjust="spacingAndGlyphs">40</text>
<line x1="132.90" y1="45.50" x2="136.50" y2="45.50" stroke="#2b2b2b" stroke-width="0.9" />
<text x="124.53" y="47.95" font-size="7.56" fill="#262626" stroke="#262626" stroke-width="0.2" textLength="7.79" lengthAdjust="spacingAndGlyphs">60</text>
<line x1="132.90" y1="24.50" x2="136.50" y2="24.50" stroke="#2b2b2b" stroke-width="0.9" />
<text x="124.53" y="26.95" font-size="7.56" fill="#262626" stroke="#262626" stroke-width="0.2" textLength="7.79" lengthAdjust="spacingAndGlyphs">80</text>
<line x1="136.00" y1="107.50" x2="221.00" y2="107.50" stroke="#2b2b2b" stroke-width="1.0" />
<line x1="160.50" y1="107.50" x2="160.50" y2="110.80" stroke="#2b2b2b" stroke-width="0.9" />
<line x1="196.50" y1="107.50" x2="196.50" y2="110.80" stroke="#2b2b2b" stroke-width="0.9" />
<line x1="255.00" y1="24.08" x2="255.00" y2="107.53" stroke="#5a5a5a" stroke-width="1.25" />
<line x1="251.20" y1="106.90" x2="255.00" y2="106.90" stroke="#5a5a5a" stroke-width="1.125" />
<text x="241.88" y="109.14" font-size="6.91" fill="#262626" stroke="#262626" stroke-width="0.2" textLength="8.90" lengthAdjust="spacingAndGlyphs">0.0</text>
<line x1="251.20" y1="79.50" x2="255.00" y2="79.50" stroke="#5a5a5a" stroke-width="1.125" />
<text x="241.91" y="81.74" font-size="6.91" fill="#262626" stroke="#262626" stroke-width="0.2" textLength="8.90" lengthAdjust="spacingAndGlyphs">0.5</text>
<line x1="251.20" y1="52.10" x2="255.00" y2="52.10" stroke="#5a5a5a" stroke-width="1.125" />
<text x="241.88" y="54.34" font-size="6.91" fill="#262626" stroke="#262626" stroke-width="0.2" textLength="8.90" lengthAdjust="spacingAndGlyphs">1.0</text>
<line x1="251.20" y1="24.70" x2="255.00" y2="24.70" stroke="#5a5a5a" stroke-width="1.125" />
<text x="241.91" y="26.94" font-size="6.91" fill="#262626" stroke="#262626" stroke-width="0.2" textLength="8.90" lengthAdjust="spacingAndGlyphs">1.5</text>
<line x1="254.38" y1="106.90" x2="334.10" y2="106.90" stroke="#2b2b2b" stroke-width="1.25" />
<line x1="273.40" y1="106.90" x2="273.40" y2="110.20" stroke="#2b2b2b" stroke-width="1.125" />
<line x1="315.30" y1="106.90" x2="315.30" y2="110.20" stroke="#2b2b2b" stroke-width="1.125" />
<line x1="372.20" y1="24.08" x2="372.20" y2="107.83" stroke="#2b2b2b" stroke-width="1.25" />
<line x1="368.60" y1="107.20" x2="372.20" y2="107.20" stroke="#2b2b2b" stroke-width="1.125" />
<text x="358.81" y="109.51" font-size="7.13" fill="#555" stroke="#555" stroke-width="0.2" textLength="9.18" lengthAdjust="spacingAndGlyphs">0.0</text>
<line x1="368.60" y1="79.70" x2="372.20" y2="79.70" stroke="#2b2b2b" stroke-width="1.125" />
<text x="358.84" y="82.01" font-size="7.13" fill="#555" stroke="#555" stroke-width="0.2" textLength="9.18" lengthAdjust="spacingAndGlyphs">0.5</text>
<line x1="368.60" y1="52.20" x2="372.20" y2="52.20" stroke="#2b2b2b" stroke-width="1.125" />
<text x="358.81" y="54.51" font-size="7.13" fill="#555" stroke="#555" stroke-width="0.2" textLength="9.18" lengthAdjust="spacingAndGlyphs">1.0</text>
<line x1="368.60" y1="24.70" x2="372.20" y2="24.70" stroke="#2b2b2b" stroke-width="1.125" />
<text x="358.84" y="27.01" font-size="7.13" fill="#555" stroke="#555" stroke-width="0.2" textLength="9.18" lengthAdjust="spacingAndGlyphs">1.5</text>
<line x1="371.57" y1="107.20" x2="450.80" y2="107.20" stroke="#2b2b2b" stroke-width="1.25" />
<line x1="390.40" y1="107.20" x2="390.40" y2="110.50" stroke="#2b2b2b" stroke-width="1.125" />
<line x1="432.30" y1="107.20" x2="432.30" y2="110.50" stroke="#2b2b2b" stroke-width="1.125" />
<line x1="493.30" y1="23.38" x2="493.30" y2="106.92" stroke="#2b2b2b" stroke-width="1.25" />
<line x1="489.70" y1="106.20" x2="493.30" y2="106.20" stroke="#2b2b2b" stroke-width="1.125" />
<text x="479.34" y="108.58" font-size="7.34" fill="#262626" stroke="#262626" stroke-width="0.2" textLength="9.45" lengthAdjust="spacingAndGlyphs">0.0</text>
<line x1="489.70" y1="78.80" x2="493.30" y2="78.80" stroke="#2b2b2b" stroke-width="1.125" />
<text x="479.37" y="81.18" font-size="7.34" fill="#262626" stroke="#262626" stroke-width="0.2" textLength="9.45" lengthAdjust="spacingAndGlyphs">0.5</text>
<line x1="489.70" y1="51.40" x2="493.30" y2="51.40" stroke="#2b2b2b" stroke-width="1.125" />
<text x="479.34" y="53.78" font-size="7.34" fill="#262626" stroke="#262626" stroke-width="0.2" textLength="9.45" lengthAdjust="spacingAndGlyphs">1.0</text>
<line x1="489.70" y1="24.00" x2="493.30" y2="24.00" stroke="#2b2b2b" stroke-width="1.125" />
<text x="479.37" y="26.38" font-size="7.34" fill="#262626" stroke="#262626" stroke-width="0.2" textLength="9.45" lengthAdjust="spacingAndGlyphs">1.5</text>
<line x1="492.68" y1="106.30" x2="571.80" y2="106.30" stroke="#2b2b2b" stroke-width="1.25" />
<line x1="515.40" y1="106.30" x2="515.40" y2="109.60" stroke="#2b2b2b" stroke-width="1.125" />
<line x1="549.50" y1="106.30" x2="549.50" y2="109.60" stroke="#2b2b2b" stroke-width="1.125" />
<line x1="600.00" y1="21.62" x2="600.00" y2="106.12" stroke="#2b2b2b" stroke-width="1.25" />
<line x1="596.40" y1="105.50" x2="600.00" y2="105.50" stroke="#2b2b2b" stroke-width="1.125" />
<text x="586.27" y="107.84" font-size="7.24" fill="#262626" stroke="#262626" stroke-width="0.2" textLength="9.31" lengthAdjust="spacingAndGlyphs">0.0</text>
<line x1="596.40" y1="77.75" x2="600.00" y2="77.75" stroke="#2b2b2b" stroke-width="1.125" />
<text x="586.31" y="80.09" font-size="7.24" fill="#262626" stroke="#262626" stroke-width="0.2" textLength="9.31" lengthAdjust="spacingAndGlyphs">0.5</text>
<line x1="596.40" y1="50.00" x2="600.00" y2="50.00" stroke="#2b2b2b" stroke-width="1.125" />
<text x="586.27" y="52.34" font-size="7.24" fill="#262626" stroke="#262626" stroke-width="0.2" textLength="9.31" lengthAdjust="spacingAndGlyphs">1.0</text>
<line x1="596.40" y1="22.25" x2="600.00" y2="22.25" stroke="#2b2b2b" stroke-width="1.125" />
<text x="586.31" y="24.59" font-size="7.24" fill="#262626" stroke="#262626" stroke-width="0.2" textLength="9.31" lengthAdjust="spacingAndGlyphs">1.5</text>
<line x1="599.38" y1="105.50" x2="682.90" y2="105.50" stroke="#2b2b2b" stroke-width="1.25" />
<line x1="610.20" y1="105.50" x2="610.20" y2="108.80" stroke="#2b2b2b" stroke-width="1.125" />
<line x1="630.80" y1="105.50" x2="630.80" y2="108.80" stroke="#2b2b2b" stroke-width="1.125" />
<line x1="651.50" y1="105.50" x2="651.50" y2="108.80" stroke="#2b2b2b" stroke-width="1.125" />
<line x1="672.30" y1="105.50" x2="672.30" y2="108.80" stroke="#2b2b2b" stroke-width="1.125" />
<line x1="25.60" y1="145.07" x2="25.60" y2="230.22" stroke="#2b2b2b" stroke-width="1.25" />
<line x1="22.00" y1="229.60" x2="25.60" y2="229.60" stroke="#2b2b2b" stroke-width="1.125" />
<text x="17.47" y="231.94" font-size="7.24" fill="#262626" stroke="#262626" stroke-width="0.2" textLength="3.73" lengthAdjust="spacingAndGlyphs">0</text>
<line x1="22.00" y1="208.62" x2="25.60" y2="208.62" stroke="#2b2b2b" stroke-width="1.125" />
<text x="13.75" y="210.97" font-size="7.24" fill="#262626" stroke="#262626" stroke-width="0.2" textLength="7.45" lengthAdjust="spacingAndGlyphs">50</text>
<line x1="22.00" y1="187.65" x2="25.60" y2="187.65" stroke="#2b2b2b" stroke-width="1.125" />
<text x="10.03" y="190.00" font-size="7.24" fill="#262626" stroke="#262626" stroke-width="0.2" textLength="11.18" lengthAdjust="spacingAndGlyphs">100</text>
<line x1="22.00" y1="166.68" x2="25.60" y2="166.68" stroke="#2b2b2b" stroke-width="1.125" />
<text x="10.03" y="169.02" font-size="7.24" fill="#262626" stroke="#262626" stroke-width="0.2" textLength="11.18" lengthAdjust="spacingAndGlyphs">150</text>
<line x1="22.00" y1="145.70" x2="25.60" y2="145.70" stroke="#2b2b2b" stroke-width="1.125" />
<text x="10.03" y="148.04" font-size="7.24" fill="#262626" stroke="#262626" stroke-width="0.2" textLength="11.18" lengthAdjust="spacingAndGlyphs">200</text>
<line x1="24.98" y1="229.60" x2="104.50" y2="229.60" stroke="#2b2b2b" stroke-width="1.25" />
<line x1="47.40" y1="229.60" x2="47.40" y2="232.90" stroke="#2b2b2b" stroke-width="1.125" />
<line x1="81.40" y1="229.60" x2="81.40" y2="232.90" stroke="#2b2b2b" stroke-width="1.125" />
<line x1="136.50" y1="149.45" x2="136.50" y2="230.12" stroke="#2b2b2b" stroke-width="1.25" />
<line x1="132.90" y1="229.50" x2="136.50" y2="229.50" stroke="#2b2b2b" stroke-width="1.125" />
<text x="128.52" y="231.74" font-size="6.91" fill="#262626" stroke="#262626" stroke-width="0.2" textLength="3.56" lengthAdjust="spacingAndGlyphs">0</text>
<line x1="132.90" y1="203.03" x2="136.50" y2="203.03" stroke="#2b2b2b" stroke-width="1.125" />
<text x="124.97" y="205.27" font-size="6.91" fill="#262626" stroke="#262626" stroke-width="0.2" textLength="7.12" lengthAdjust="spacingAndGlyphs">50</text>
<line x1="132.90" y1="176.55" x2="136.50" y2="176.55" stroke="#2b2b2b" stroke-width="1.125" />
<text x="121.42" y="178.79" font-size="6.91" fill="#262626" stroke="#262626" stroke-width="0.2" textLength="10.68" lengthAdjust="spacingAndGlyphs">100</text>
<line x1="132.90" y1="150.07" x2="136.50" y2="150.07" stroke="#2b2b2b" stroke-width="1.125" />
<text x="121.42" y="152.31" font-size="6.91" fill="#262626" stroke="#262626" stroke-width="0.2" textLength="10.68" lengthAdjust="spacingAndGlyphs">150</text>
<line x1="135.88" y1="229.50" x2="216.40" y2="229.50" stroke="#2b2b2b" stroke-width="1.25" />
<line x1="142.40" y1="229.50" x2="142.40" y2="232.80" stroke="#2b2b2b" stroke-width="1.125" />
<line x1="155.90" y1="229.50" x2="155.90" y2="232.80" stroke="#2b2b2b" stroke-width="1.125" />
<line x1="169.60" y1="229.50" x2="169.60" y2="232.80" stroke="#2b2b2b" stroke-width="1.125" />
<line x1="182.70" y1="229.50" x2="182.70" y2="232.80" stroke="#2b2b2b" stroke-width="1.125" />
<line x1="196.10" y1="229.50" x2="196.10" y2="232.80" stroke="#2b2b2b" stroke-width="1.125" />
<line x1="209.60" y1="229.50" x2="209.60" y2="232.80" stroke="#2b2b2b" stroke-width="1.125" />
<line x1="255.20" y1="147.88" x2="255.20" y2="230.12" stroke="#2b2b2b" stroke-width="1.25" />
<line x1="251.60" y1="229.50" x2="255.20" y2="229.50" stroke="#2b2b2b" stroke-width="1.125" />
<text x="247.52" y="231.74" font-size="6.91" fill="#262626" stroke="#262626" stroke-width="0.2" textLength="3.56" lengthAdjust="spacingAndGlyphs">0</text>
<line x1="251.60" y1="202.50" x2="255.20" y2="202.50" stroke="#2b2b2b" stroke-width="1.125" />
<text x="243.97" y="204.74" font-size="6.91" fill="#262626" stroke="#262626" stroke-width="0.2" textLength="7.12" lengthAdjust="spacingAndGlyphs">50</text>
<line x1="251.60" y1="175.50" x2="255.20" y2="175.50" stroke="#2b2b2b" stroke-width="1.125" />
<text x="240.42" y="177.74" font-size="6.91" fill="#262626" stroke="#262626" stroke-width="0.2" textLength="10.68" lengthAdjust="spacingAndGlyphs">100</text>
<line x1="251.60" y1="148.50" x2="255.20" y2="148.50" stroke="#2b2b2b" stroke-width="1.125" />
<text x="240.42" y="150.74" font-size="6.91" fill="#262626" stroke="#262626" stroke-width="0.2" textLength="10.68" lengthAdjust="spacingAndGlyphs">150</text>
<line x1="254.57" y1="229.50" x2="336.50" y2="229.50" stroke="#2b2b2b" stroke-width="1.25" />
<line x1="261.70" y1="229.50" x2="261.70" y2="232.80" stroke="#2b2b2b" stroke-width="1.125" />
<line x1="275.70" y1="229.50" x2="275.70" y2="232.80" stroke="#2b2b2b" stroke-width="1.125" />
<line x1="289.20" y1="229.50" x2="289.20" y2="232.80" stroke="#2b2b2b" stroke-width="1.125" />
<line x1="302.90" y1="229.50" x2="302.90" y2="232.80" stroke="#2b2b2b" stroke-width="1.125" />
<line x1="316.50" y1="229.50" x2="316.50" y2="232.80" stroke="#2b2b2b" stroke-width="1.125" />
<line x1="330.30" y1="229.50" x2="330.30" y2="232.80" stroke="#2b2b2b" stroke-width="1.125" />
<line x1="372.30" y1="142.78" x2="372.30" y2="229.53" stroke="#2b2b2b" stroke-width="1.25" />
<line x1="368.70" y1="228.90" x2="372.30" y2="228.90" stroke="#2b2b2b" stroke-width="1.125" />
<text x="364.22" y="231.14" font-size="6.91" fill="#262626" stroke="#262626" stroke-width="0.2" textLength="3.56" lengthAdjust="spacingAndGlyphs">0</text>
<line x1="368.70" y1="200.40" x2="372.30" y2="200.40" stroke="#2b2b2b" stroke-width="1.125" />
<text x="360.67" y="202.64" font-size="6.91" fill="#262626" stroke="#262626" stroke-width="0.2" textLength="7.12" lengthAdjust="spacingAndGlyphs">50</text>
<line x1="368.70" y1="171.90" x2="372.30" y2="171.90" stroke="#2b2b2b" stroke-width="1.125" />
<text x="357.12" y="174.14" font-size="6.91" fill="#262626" stroke="#262626" stroke-width="0.2" textLength="10.68" lengthAdjust="spacingAndGlyphs">100</text>
<line x1="368.70" y1="143.40" x2="372.30" y2="143.40" stroke="#2b2b2b" stroke-width="1.125" />
<text x="357.12" y="145.64" font-size="6.91" fill="#262626" stroke="#262626" stroke-width="0.2" textLength="10.68" lengthAdjust="spacingAndGlyphs">150</text>
<line x1="371.68" y1="228.90" x2="456.00" y2="228.90" stroke="#2b2b2b" stroke-width="1.25" />
<line x1="379.20" y1="228.90" x2="379.20" y2="232.20" stroke="#2b2b2b" stroke-width="1.125" />
<line x1="393.30" y1="228.90" x2="393.30" y2="232.20" stroke="#2b2b2b" stroke-width="1.125" />
<line x1="406.80" y1="228.90" x2="406.80" y2="232.20" stroke="#2b2b2b" stroke-width="1.125" />
<line x1="420.60" y1="228.90" x2="420.60" y2="232.20" stroke="#2b2b2b" stroke-width="1.125" />
<line x1="434.40" y1="228.90" x2="434.40" y2="232.20" stroke="#2b2b2b" stroke-width="1.125" />
<line x1="448.40" y1="228.90" x2="448.40" y2="232.20" stroke="#2b2b2b" stroke-width="1.125" />
<line x1="491.40" y1="146.78" x2="491.40" y2="229.93" stroke="#2b2b2b" stroke-width="1.25" />
<line x1="487.80" y1="229.30" x2="491.40" y2="229.30" stroke="#2b2b2b" stroke-width="1.125" />
<text x="484.72" y="231.54" font-size="6.91" fill="#262626" stroke="#262626" stroke-width="0.2" textLength="3.56" lengthAdjust="spacingAndGlyphs">0</text>
<line x1="487.80" y1="202.00" x2="491.40" y2="202.00" stroke="#2b2b2b" stroke-width="1.125" />
<text x="481.17" y="204.24" font-size="6.91" fill="#262626" stroke="#262626" stroke-width="0.2" textLength="7.12" lengthAdjust="spacingAndGlyphs">50</text>
<line x1="487.80" y1="174.70" x2="491.40" y2="174.70" stroke="#2b2b2b" stroke-width="1.125" />
<text x="477.62" y="176.94" font-size="6.91" fill="#262626" stroke="#262626" stroke-width="0.2" textLength="10.68" lengthAdjust="spacingAndGlyphs">100</text>
<line x1="487.80" y1="147.40" x2="491.40" y2="147.40" stroke="#2b2b2b" stroke-width="1.125" />
<text x="477.62" y="149.64" font-size="6.91" fill="#262626" stroke="#262626" stroke-width="0.2" textLength="10.68" lengthAdjust="spacingAndGlyphs">150</text>
<line x1="490.77" y1="229.30" x2="569.50" y2="229.30" stroke="#2b2b2b" stroke-width="1.25" />
<line x1="498.50" y1="229.30" x2="498.50" y2="232.60" stroke="#2b2b2b" stroke-width="1.125" />
<line x1="511.40" y1="229.30" x2="511.40" y2="232.60" stroke="#2b2b2b" stroke-width="1.125" />
<line x1="524.40" y1="229.30" x2="524.40" y2="232.60" stroke="#2b2b2b" stroke-width="1.125" />
<line x1="537.30" y1="229.30" x2="537.30" y2="232.60" stroke="#2b2b2b" stroke-width="1.125" />
<line x1="550.40" y1="229.30" x2="550.40" y2="232.60" stroke="#2b2b2b" stroke-width="1.125" />
<line x1="563.30" y1="229.30" x2="563.30" y2="232.60" stroke="#2b2b2b" stroke-width="1.125" />
<line x1="600.20" y1="146.09" x2="600.20" y2="230.22" stroke="#2b2b2b" stroke-width="1.25" />
<line x1="596.60" y1="229.60" x2="600.20" y2="229.60" stroke="#2b2b2b" stroke-width="1.125" />
<text x="592.02" y="231.91" font-size="7.13" fill="#262626" stroke="#262626" stroke-width="0.2" textLength="3.67" lengthAdjust="spacingAndGlyphs">0</text>
<line x1="596.60" y1="208.88" x2="600.20" y2="208.88" stroke="#2b2b2b" stroke-width="1.125" />
<text x="592.08" y="211.19" font-size="7.13" fill="#262626" stroke="#262626" stroke-width="0.2" textLength="3.67" lengthAdjust="spacingAndGlyphs">1</text>
<line x1="596.60" y1="188.16" x2="600.20" y2="188.16" stroke="#2b2b2b" stroke-width="1.125" />
<text x="592.12" y="190.47" font-size="7.13" fill="#262626" stroke="#262626" stroke-width="0.2" textLength="3.67" lengthAdjust="spacingAndGlyphs">2</text>
<line x1="596.60" y1="167.44" x2="600.20" y2="167.44" stroke="#2b2b2b" stroke-width="1.125" />
<text x="592.05" y="169.75" font-size="7.13" fill="#262626" stroke="#262626" stroke-width="0.2" textLength="3.67" lengthAdjust="spacingAndGlyphs">3</text>
<line x1="596.60" y1="146.72" x2="600.20" y2="146.72" stroke="#2b2b2b" stroke-width="1.125" />
<text x="591.98" y="149.03" font-size="7.13" fill="#262626" stroke="#262626" stroke-width="0.2" textLength="3.67" lengthAdjust="spacingAndGlyphs">4</text>
<line x1="599.58" y1="229.60" x2="679.20" y2="229.60" stroke="#2b2b2b" stroke-width="1.25" />
<line x1="618.60" y1="229.60" x2="618.60" y2="232.90" stroke="#2b2b2b" stroke-width="1.125" />
<line x1="660.50" y1="229.60" x2="660.50" y2="232.90" stroke="#2b2b2b" stroke-width="1.125" />
</svg>
</body></html>
